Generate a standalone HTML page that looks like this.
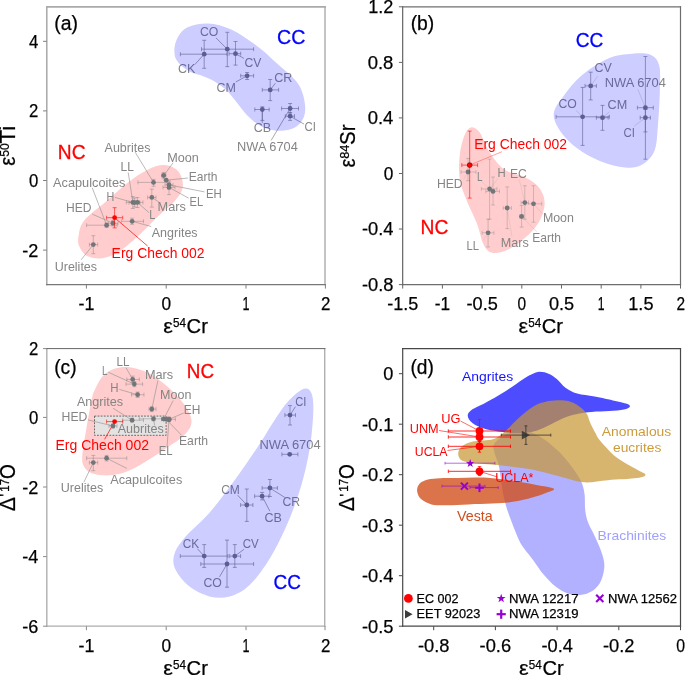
<!DOCTYPE html>
<html><head><meta charset="utf-8"><title>isotope panels</title>
<style>html,body{margin:0;padding:0;background:#fff;}svg{display:block;}text{font-family:"Liberation Sans",sans-serif;}text[fill="#000"]{stroke:#000;stroke-width:0.25px;}text[font-size="20.8"][fill="#ff0000"]{stroke:#ff0000;stroke-width:0.3px;}text[font-size="20.8"][fill="#0000ff"]{stroke:#0000ff;stroke-width:0.3px;}</style>
</head><body>
<svg width="685" height="675" viewBox="0 0 685 675">
<rect width="685" height="675" fill="#fff"/>
<g opacity="0.999">
<g id="pa">
<path d="M78.3,237.6C79.0,233.2 79.2,227.0 83.8,221.0C88.5,215.0 98.6,208.0 106.0,201.6C113.4,195.1 121.3,187.5 128.2,182.2C135.2,176.8 141.6,172.5 147.6,169.7C153.6,166.8 159.2,164.7 164.3,165.0C169.4,165.2 175.1,167.5 178.1,171.1C181.2,174.6 183.3,181.5 182.9,186.3C182.4,191.2 179.9,194.9 175.4,200.2C170.9,205.5 162.4,212.0 156.0,218.2C149.5,224.5 143.0,231.9 136.5,237.6C130.1,243.4 123.1,249.4 117.1,252.9C111.1,256.4 105.6,258.0 100.5,258.4C95.4,258.9 90.1,257.5 86.6,255.7C83.1,253.8 81.1,250.3 79.7,247.3C78.3,244.3 77.6,242.0 78.3,237.6Z" fill="#ff0000" fill-opacity="0.2"/>
<line x1="46.8" y1="6.1" x2="46.8" y2="285.2" stroke="#a8a8a8" stroke-width="1.5" stroke-opacity="1.0" />
<line x1="325.0" y1="6.1" x2="325.0" y2="285.2" stroke="#bebebe" stroke-width="1.8" stroke-opacity="1.0" />
<line x1="46.0" y1="6.9" x2="325.9" y2="6.9" stroke="#aaa" stroke-width="1.6" stroke-opacity="1.0" />
<line x1="46.0" y1="284.6" x2="325.9" y2="284.6" stroke="#777" stroke-width="1.2" stroke-opacity="1.0" />
<line x1="86.4" y1="284.6" x2="86.4" y2="288.6" stroke="#808080" stroke-width="1.0" stroke-opacity="1.0" />
<line x1="166.2" y1="284.6" x2="166.2" y2="288.6" stroke="#808080" stroke-width="1.0" stroke-opacity="1.0" />
<line x1="246.0" y1="284.6" x2="246.0" y2="288.6" stroke="#808080" stroke-width="1.0" stroke-opacity="1.0" />
<line x1="325.4" y1="284.6" x2="325.4" y2="288.6" stroke="#808080" stroke-width="1.0" stroke-opacity="1.0" />
<line x1="43.0" y1="41.3" x2="46.8" y2="41.3" stroke="#808080" stroke-width="1.0" stroke-opacity="1.0" />
<line x1="43.0" y1="110.9" x2="46.8" y2="110.9" stroke="#808080" stroke-width="1.0" stroke-opacity="1.0" />
<line x1="43.0" y1="180.5" x2="46.8" y2="180.5" stroke="#808080" stroke-width="1.0" stroke-opacity="1.0" />
<line x1="43.0" y1="250.1" x2="46.8" y2="250.1" stroke="#808080" stroke-width="1.0" stroke-opacity="1.0" />
<line x1="135.2" y1="152.2" x2="153.5" y2="182.4" stroke="#959595" stroke-width="0.65" stroke-opacity="1.0" />
<line x1="173.2" y1="162.7" x2="163.7" y2="175.5" stroke="#959595" stroke-width="0.65" stroke-opacity="1.0" />
<line x1="187.9" y1="178.0" x2="166.2" y2="180.2" stroke="#959595" stroke-width="0.65" stroke-opacity="1.0" />
<line x1="204.5" y1="191.9" x2="169.0" y2="184.9" stroke="#959595" stroke-width="0.65" stroke-opacity="1.0" />
<line x1="188.7" y1="198.2" x2="169.0" y2="187.4" stroke="#959595" stroke-width="0.65" stroke-opacity="1.0" />
<line x1="159.3" y1="202.4" x2="151.8" y2="197.4" stroke="#959595" stroke-width="0.65" stroke-opacity="1.0" />
<line x1="128.2" y1="172.4" x2="132.9" y2="202.4" stroke="#959595" stroke-width="0.65" stroke-opacity="1.0" />
<line x1="92.2" y1="187.7" x2="106.6" y2="225.2" stroke="#959595" stroke-width="0.65" stroke-opacity="1.0" />
<line x1="114.9" y1="197.4" x2="132.9" y2="202.4" stroke="#959595" stroke-width="0.65" stroke-opacity="1.0" />
<line x1="149.0" y1="212.7" x2="137.4" y2="202.4" stroke="#959595" stroke-width="0.65" stroke-opacity="1.0" />
<line x1="92.2" y1="214.1" x2="113.0" y2="223.2" stroke="#959595" stroke-width="0.65" stroke-opacity="1.0" />
<line x1="151.2" y1="226.5" x2="132.1" y2="221.3" stroke="#959595" stroke-width="0.65" stroke-opacity="1.0" />
<line x1="81.1" y1="259.8" x2="93.3" y2="244.6" stroke="#959595" stroke-width="0.65" stroke-opacity="1.0" />
<line x1="147.6" y1="246.0" x2="114.6" y2="217.7" stroke="#ff0000" stroke-width="0.7" stroke-opacity="1.0" />
<line x1="89.4" y1="244.6" x2="97.7" y2="244.6" stroke="#777777" stroke-width="0.6" stroke-opacity="0.68" />
<line x1="89.4" y1="242.6" x2="89.4" y2="246.6" stroke="#777777" stroke-width="0.6" stroke-opacity="0.68" />
<line x1="97.7" y1="242.6" x2="97.7" y2="246.6" stroke="#777777" stroke-width="0.6" stroke-opacity="0.68" />
<line x1="93.3" y1="235.7" x2="93.3" y2="253.7" stroke="#777777" stroke-width="0.6" stroke-opacity="0.68" />
<line x1="91.3" y1="235.7" x2="95.3" y2="235.7" stroke="#777777" stroke-width="0.6" stroke-opacity="0.68" />
<line x1="91.3" y1="253.7" x2="95.3" y2="253.7" stroke="#777777" stroke-width="0.6" stroke-opacity="0.68" />
<circle cx="93.3" cy="244.6" r="2.4" fill="#72767a" fill-opacity="1.0"/>
<line x1="86.6" y1="225.2" x2="117.1" y2="225.2" stroke="#777777" stroke-width="0.6" stroke-opacity="0.68" />
<line x1="86.6" y1="223.2" x2="86.6" y2="227.2" stroke="#777777" stroke-width="0.6" stroke-opacity="0.68" />
<line x1="117.1" y1="223.2" x2="117.1" y2="227.2" stroke="#777777" stroke-width="0.6" stroke-opacity="0.68" />
<line x1="106.6" y1="223.0" x2="106.6" y2="227.4" stroke="#777777" stroke-width="0.6" stroke-opacity="0.68" />
<line x1="104.6" y1="223.0" x2="108.6" y2="223.0" stroke="#777777" stroke-width="0.6" stroke-opacity="0.68" />
<line x1="104.6" y1="227.4" x2="108.6" y2="227.4" stroke="#777777" stroke-width="0.6" stroke-opacity="0.68" />
<circle cx="106.6" cy="225.2" r="2.4" fill="#72767a" fill-opacity="1.0"/>
<line x1="108.0" y1="223.2" x2="118.0" y2="223.2" stroke="#777777" stroke-width="0.6" stroke-opacity="0.68" />
<line x1="108.0" y1="221.2" x2="108.0" y2="225.2" stroke="#777777" stroke-width="0.6" stroke-opacity="0.68" />
<line x1="118.0" y1="221.2" x2="118.0" y2="225.2" stroke="#777777" stroke-width="0.6" stroke-opacity="0.68" />
<line x1="113.0" y1="220.5" x2="113.0" y2="226.0" stroke="#777777" stroke-width="0.6" stroke-opacity="0.68" />
<line x1="111.0" y1="220.5" x2="115.0" y2="220.5" stroke="#777777" stroke-width="0.6" stroke-opacity="0.68" />
<line x1="111.0" y1="226.0" x2="115.0" y2="226.0" stroke="#777777" stroke-width="0.6" stroke-opacity="0.68" />
<circle cx="113.0" cy="223.2" r="2.4" fill="#72767a" fill-opacity="1.0"/>
<line x1="121.3" y1="221.3" x2="143.5" y2="221.3" stroke="#777777" stroke-width="0.6" stroke-opacity="0.68" />
<line x1="121.3" y1="219.3" x2="121.3" y2="223.3" stroke="#777777" stroke-width="0.6" stroke-opacity="0.68" />
<line x1="143.5" y1="219.3" x2="143.5" y2="223.3" stroke="#777777" stroke-width="0.6" stroke-opacity="0.68" />
<line x1="132.1" y1="218.2" x2="132.1" y2="224.3" stroke="#777777" stroke-width="0.6" stroke-opacity="0.68" />
<line x1="130.1" y1="218.2" x2="134.1" y2="218.2" stroke="#777777" stroke-width="0.6" stroke-opacity="0.68" />
<line x1="130.1" y1="224.3" x2="134.1" y2="224.3" stroke="#777777" stroke-width="0.6" stroke-opacity="0.68" />
<circle cx="132.1" cy="221.3" r="2.4" fill="#72767a" fill-opacity="1.0"/>
<line x1="126.3" y1="202.4" x2="139.3" y2="202.4" stroke="#777777" stroke-width="0.6" stroke-opacity="0.68" />
<line x1="126.3" y1="200.4" x2="126.3" y2="204.4" stroke="#777777" stroke-width="0.6" stroke-opacity="0.68" />
<line x1="139.3" y1="200.4" x2="139.3" y2="204.4" stroke="#777777" stroke-width="0.6" stroke-opacity="0.68" />
<line x1="132.9" y1="196.6" x2="132.9" y2="208.5" stroke="#777777" stroke-width="0.6" stroke-opacity="0.68" />
<line x1="130.9" y1="196.6" x2="134.9" y2="196.6" stroke="#777777" stroke-width="0.6" stroke-opacity="0.68" />
<line x1="130.9" y1="208.5" x2="134.9" y2="208.5" stroke="#777777" stroke-width="0.6" stroke-opacity="0.68" />
<circle cx="132.9" cy="202.4" r="2.4" fill="#72767a" fill-opacity="1.0"/>
<line x1="129.0" y1="202.6" x2="140.0" y2="202.6" stroke="#777777" stroke-width="0.6" stroke-opacity="0.68" />
<line x1="129.0" y1="200.6" x2="129.0" y2="204.6" stroke="#777777" stroke-width="0.6" stroke-opacity="0.68" />
<line x1="140.0" y1="200.6" x2="140.0" y2="204.6" stroke="#777777" stroke-width="0.6" stroke-opacity="0.68" />
<line x1="134.6" y1="198.0" x2="134.6" y2="207.0" stroke="#777777" stroke-width="0.6" stroke-opacity="0.68" />
<line x1="132.6" y1="198.0" x2="136.6" y2="198.0" stroke="#777777" stroke-width="0.6" stroke-opacity="0.68" />
<line x1="132.6" y1="207.0" x2="136.6" y2="207.0" stroke="#777777" stroke-width="0.6" stroke-opacity="0.68" />
<circle cx="134.6" cy="202.6" r="2.4" fill="#72767a" fill-opacity="1.0"/>
<line x1="132.0" y1="202.4" x2="143.0" y2="202.4" stroke="#777777" stroke-width="0.6" stroke-opacity="0.68" />
<line x1="132.0" y1="200.4" x2="132.0" y2="204.4" stroke="#777777" stroke-width="0.6" stroke-opacity="0.68" />
<line x1="143.0" y1="200.4" x2="143.0" y2="204.4" stroke="#777777" stroke-width="0.6" stroke-opacity="0.68" />
<line x1="137.4" y1="197.5" x2="137.4" y2="207.5" stroke="#777777" stroke-width="0.6" stroke-opacity="0.68" />
<line x1="135.4" y1="197.5" x2="139.4" y2="197.5" stroke="#777777" stroke-width="0.6" stroke-opacity="0.68" />
<line x1="135.4" y1="207.5" x2="139.4" y2="207.5" stroke="#777777" stroke-width="0.6" stroke-opacity="0.68" />
<circle cx="137.4" cy="202.4" r="2.4" fill="#72767a" fill-opacity="1.0"/>
<line x1="147.6" y1="197.4" x2="156.0" y2="197.4" stroke="#777777" stroke-width="0.6" stroke-opacity="0.68" />
<line x1="147.6" y1="195.4" x2="147.6" y2="199.4" stroke="#777777" stroke-width="0.6" stroke-opacity="0.68" />
<line x1="156.0" y1="195.4" x2="156.0" y2="199.4" stroke="#777777" stroke-width="0.6" stroke-opacity="0.68" />
<line x1="151.8" y1="189.1" x2="151.8" y2="207.1" stroke="#777777" stroke-width="0.6" stroke-opacity="0.68" />
<line x1="149.8" y1="189.1" x2="153.8" y2="189.1" stroke="#777777" stroke-width="0.6" stroke-opacity="0.68" />
<line x1="149.8" y1="207.1" x2="153.8" y2="207.1" stroke="#777777" stroke-width="0.6" stroke-opacity="0.68" />
<circle cx="151.8" cy="197.4" r="2.4" fill="#72767a" fill-opacity="1.0"/>
<line x1="137.9" y1="182.4" x2="167.1" y2="182.4" stroke="#777777" stroke-width="0.6" stroke-opacity="0.68" />
<line x1="137.9" y1="180.4" x2="137.9" y2="184.4" stroke="#777777" stroke-width="0.6" stroke-opacity="0.68" />
<line x1="167.1" y1="180.4" x2="167.1" y2="184.4" stroke="#777777" stroke-width="0.6" stroke-opacity="0.68" />
<line x1="153.5" y1="179.4" x2="153.5" y2="186.3" stroke="#777777" stroke-width="0.6" stroke-opacity="0.68" />
<line x1="151.5" y1="179.4" x2="155.5" y2="179.4" stroke="#777777" stroke-width="0.6" stroke-opacity="0.68" />
<line x1="151.5" y1="186.3" x2="155.5" y2="186.3" stroke="#777777" stroke-width="0.6" stroke-opacity="0.68" />
<circle cx="153.5" cy="182.4" r="2.4" fill="#72767a" fill-opacity="1.0"/>
<line x1="161.5" y1="175.5" x2="166.0" y2="175.5" stroke="#777777" stroke-width="0.6" stroke-opacity="0.68" />
<line x1="161.5" y1="173.5" x2="161.5" y2="177.5" stroke="#777777" stroke-width="0.6" stroke-opacity="0.68" />
<line x1="166.0" y1="173.5" x2="166.0" y2="177.5" stroke="#777777" stroke-width="0.6" stroke-opacity="0.68" />
<line x1="163.7" y1="172.4" x2="163.7" y2="178.8" stroke="#777777" stroke-width="0.6" stroke-opacity="0.68" />
<line x1="161.7" y1="172.4" x2="165.7" y2="172.4" stroke="#777777" stroke-width="0.6" stroke-opacity="0.68" />
<line x1="161.7" y1="178.8" x2="165.7" y2="178.8" stroke="#777777" stroke-width="0.6" stroke-opacity="0.68" />
<circle cx="163.7" cy="175.5" r="2.4" fill="#72767a" fill-opacity="1.0"/>
<circle cx="166.2" cy="180.2" r="2.4" fill="#72767a" fill-opacity="1.0"/>
<line x1="165.0" y1="184.9" x2="173.0" y2="184.9" stroke="#777777" stroke-width="0.6" stroke-opacity="0.68" />
<line x1="165.0" y1="182.9" x2="165.0" y2="186.9" stroke="#777777" stroke-width="0.6" stroke-opacity="0.68" />
<line x1="173.0" y1="182.9" x2="173.0" y2="186.9" stroke="#777777" stroke-width="0.6" stroke-opacity="0.68" />
<line x1="169.0" y1="181.0" x2="169.0" y2="189.0" stroke="#777777" stroke-width="0.6" stroke-opacity="0.68" />
<line x1="167.0" y1="181.0" x2="171.0" y2="181.0" stroke="#777777" stroke-width="0.6" stroke-opacity="0.68" />
<line x1="167.0" y1="189.0" x2="171.0" y2="189.0" stroke="#777777" stroke-width="0.6" stroke-opacity="0.68" />
<circle cx="169.0" cy="184.9" r="2.4" fill="#72767a" fill-opacity="1.0"/>
<line x1="163.0" y1="187.4" x2="175.0" y2="187.4" stroke="#777777" stroke-width="0.6" stroke-opacity="0.68" />
<line x1="163.0" y1="185.4" x2="163.0" y2="189.4" stroke="#777777" stroke-width="0.6" stroke-opacity="0.68" />
<line x1="175.0" y1="185.4" x2="175.0" y2="189.4" stroke="#777777" stroke-width="0.6" stroke-opacity="0.68" />
<line x1="169.0" y1="182.2" x2="169.0" y2="194.6" stroke="#777777" stroke-width="0.6" stroke-opacity="0.68" />
<line x1="167.0" y1="182.2" x2="171.0" y2="182.2" stroke="#777777" stroke-width="0.6" stroke-opacity="0.68" />
<line x1="167.0" y1="194.6" x2="171.0" y2="194.6" stroke="#777777" stroke-width="0.6" stroke-opacity="0.68" />
<circle cx="169.0" cy="187.4" r="2.4" fill="#72767a" fill-opacity="1.0"/>
<line x1="106.6" y1="217.7" x2="122.7" y2="217.7" stroke="#ff0000" stroke-width="0.6" stroke-opacity="1" />
<line x1="106.6" y1="215.7" x2="106.6" y2="219.7" stroke="#ff0000" stroke-width="0.6" stroke-opacity="1" />
<line x1="122.7" y1="215.7" x2="122.7" y2="219.7" stroke="#ff0000" stroke-width="0.6" stroke-opacity="1" />
<line x1="114.6" y1="207.7" x2="114.6" y2="227.9" stroke="#ff0000" stroke-width="0.6" stroke-opacity="1" />
<line x1="112.6" y1="207.7" x2="116.6" y2="207.7" stroke="#ff0000" stroke-width="0.6" stroke-opacity="1" />
<line x1="112.6" y1="227.9" x2="116.6" y2="227.9" stroke="#ff0000" stroke-width="0.6" stroke-opacity="1" />
<circle cx="114.6" cy="217.7" r="2.4" fill="#ff0000" fill-opacity="1"/>
<line x1="215.9" y1="37.8" x2="227.3" y2="49.2" stroke="#7c7c7c" stroke-width="0.65" stroke-opacity="1.0" />
<line x1="194.8" y1="64.6" x2="204.2" y2="54.2" stroke="#7c7c7c" stroke-width="0.65" stroke-opacity="1.0" />
<line x1="243.9" y1="58.4" x2="235.5" y2="53.7" stroke="#7c7c7c" stroke-width="0.65" stroke-opacity="1.0" />
<line x1="235.7" y1="82.0" x2="247.1" y2="75.8" stroke="#7c7c7c" stroke-width="0.65" stroke-opacity="1.0" />
<line x1="275.4" y1="83.2" x2="270.2" y2="89.9" stroke="#7c7c7c" stroke-width="0.65" stroke-opacity="1.0" />
<line x1="262.3" y1="122.9" x2="262.3" y2="109.5" stroke="#7c7c7c" stroke-width="0.65" stroke-opacity="1.0" />
<line x1="304.0" y1="124.1" x2="290.1" y2="116.2" stroke="#7c7c7c" stroke-width="0.65" stroke-opacity="1.0" />
<line x1="271.2" y1="140.3" x2="290.1" y2="108.5" stroke="#7c7c7c" stroke-width="0.65" stroke-opacity="1.0" />
<line x1="180.4" y1="54.2" x2="227.0" y2="54.2" stroke="#777777" stroke-width="0.7" stroke-opacity="0.85" />
<line x1="180.4" y1="52.2" x2="180.4" y2="56.2" stroke="#777777" stroke-width="0.7" stroke-opacity="0.85" />
<line x1="227.0" y1="52.2" x2="227.0" y2="56.2" stroke="#777777" stroke-width="0.7" stroke-opacity="0.85" />
<line x1="204.2" y1="40.3" x2="204.2" y2="68.3" stroke="#777777" stroke-width="0.7" stroke-opacity="0.85" />
<line x1="202.2" y1="40.3" x2="206.2" y2="40.3" stroke="#777777" stroke-width="0.7" stroke-opacity="0.85" />
<line x1="202.2" y1="68.3" x2="206.2" y2="68.3" stroke="#777777" stroke-width="0.7" stroke-opacity="0.85" />
<circle cx="204.2" cy="54.2" r="2.4" fill="#72767a" fill-opacity="1.0"/>
<line x1="201.5" y1="49.2" x2="253.6" y2="49.2" stroke="#777777" stroke-width="0.7" stroke-opacity="0.85" />
<line x1="201.5" y1="47.2" x2="201.5" y2="51.2" stroke="#777777" stroke-width="0.7" stroke-opacity="0.85" />
<line x1="253.6" y1="47.2" x2="253.6" y2="51.2" stroke="#777777" stroke-width="0.7" stroke-opacity="0.85" />
<line x1="227.3" y1="32.3" x2="227.3" y2="66.6" stroke="#777777" stroke-width="0.7" stroke-opacity="0.85" />
<line x1="225.3" y1="32.3" x2="229.3" y2="32.3" stroke="#777777" stroke-width="0.7" stroke-opacity="0.85" />
<line x1="225.3" y1="66.6" x2="229.3" y2="66.6" stroke="#777777" stroke-width="0.7" stroke-opacity="0.85" />
<circle cx="227.3" cy="49.2" r="2.4" fill="#72767a" fill-opacity="1.0"/>
<line x1="229.0" y1="53.7" x2="240.7" y2="53.7" stroke="#777777" stroke-width="0.7" stroke-opacity="0.85" />
<line x1="229.0" y1="51.7" x2="229.0" y2="55.7" stroke="#777777" stroke-width="0.7" stroke-opacity="0.85" />
<line x1="240.7" y1="51.7" x2="240.7" y2="55.7" stroke="#777777" stroke-width="0.7" stroke-opacity="0.85" />
<line x1="235.5" y1="41.5" x2="235.5" y2="65.1" stroke="#777777" stroke-width="0.7" stroke-opacity="0.85" />
<line x1="233.5" y1="41.5" x2="237.5" y2="41.5" stroke="#777777" stroke-width="0.7" stroke-opacity="0.85" />
<line x1="233.5" y1="65.1" x2="237.5" y2="65.1" stroke="#777777" stroke-width="0.7" stroke-opacity="0.85" />
<circle cx="235.5" cy="53.7" r="2.4" fill="#72767a" fill-opacity="1.0"/>
<line x1="240.7" y1="75.8" x2="253.6" y2="75.8" stroke="#777777" stroke-width="0.7" stroke-opacity="0.85" />
<line x1="240.7" y1="73.8" x2="240.7" y2="77.8" stroke="#777777" stroke-width="0.7" stroke-opacity="0.85" />
<line x1="253.6" y1="73.8" x2="253.6" y2="77.8" stroke="#777777" stroke-width="0.7" stroke-opacity="0.85" />
<line x1="247.1" y1="72.5" x2="247.1" y2="79.5" stroke="#777777" stroke-width="0.7" stroke-opacity="0.85" />
<line x1="245.1" y1="72.5" x2="249.1" y2="72.5" stroke="#777777" stroke-width="0.7" stroke-opacity="0.85" />
<line x1="245.1" y1="79.5" x2="249.1" y2="79.5" stroke="#777777" stroke-width="0.7" stroke-opacity="0.85" />
<circle cx="247.1" cy="75.8" r="2.4" fill="#72767a" fill-opacity="1.0"/>
<line x1="262.3" y1="89.9" x2="278.6" y2="89.9" stroke="#777777" stroke-width="0.7" stroke-opacity="0.85" />
<line x1="262.3" y1="87.9" x2="262.3" y2="91.9" stroke="#777777" stroke-width="0.7" stroke-opacity="0.85" />
<line x1="278.6" y1="87.9" x2="278.6" y2="91.9" stroke="#777777" stroke-width="0.7" stroke-opacity="0.85" />
<line x1="270.2" y1="79.5" x2="270.2" y2="100.6" stroke="#777777" stroke-width="0.7" stroke-opacity="0.85" />
<line x1="268.2" y1="79.5" x2="272.2" y2="79.5" stroke="#777777" stroke-width="0.7" stroke-opacity="0.85" />
<line x1="268.2" y1="100.6" x2="272.2" y2="100.6" stroke="#777777" stroke-width="0.7" stroke-opacity="0.85" />
<circle cx="270.2" cy="89.9" r="2.4" fill="#72767a" fill-opacity="1.0"/>
<line x1="254.8" y1="109.5" x2="269.2" y2="109.5" stroke="#777777" stroke-width="0.7" stroke-opacity="0.85" />
<line x1="254.8" y1="107.5" x2="254.8" y2="111.5" stroke="#777777" stroke-width="0.7" stroke-opacity="0.85" />
<line x1="269.2" y1="107.5" x2="269.2" y2="111.5" stroke="#777777" stroke-width="0.7" stroke-opacity="0.85" />
<line x1="262.3" y1="106.8" x2="262.3" y2="120.4" stroke="#777777" stroke-width="0.7" stroke-opacity="0.85" />
<line x1="260.3" y1="106.8" x2="264.3" y2="106.8" stroke="#777777" stroke-width="0.7" stroke-opacity="0.85" />
<line x1="260.3" y1="120.4" x2="264.3" y2="120.4" stroke="#777777" stroke-width="0.7" stroke-opacity="0.85" />
<circle cx="262.3" cy="109.5" r="2.4" fill="#72767a" fill-opacity="1.0"/>
<line x1="281.6" y1="108.5" x2="298.5" y2="108.5" stroke="#777777" stroke-width="0.7" stroke-opacity="0.85" />
<line x1="281.6" y1="106.5" x2="281.6" y2="110.5" stroke="#777777" stroke-width="0.7" stroke-opacity="0.85" />
<line x1="298.5" y1="106.5" x2="298.5" y2="110.5" stroke="#777777" stroke-width="0.7" stroke-opacity="0.85" />
<line x1="290.1" y1="103.5" x2="290.1" y2="113.0" stroke="#777777" stroke-width="0.7" stroke-opacity="0.85" />
<line x1="288.1" y1="103.5" x2="292.1" y2="103.5" stroke="#777777" stroke-width="0.7" stroke-opacity="0.85" />
<line x1="288.1" y1="113.0" x2="292.1" y2="113.0" stroke="#777777" stroke-width="0.7" stroke-opacity="0.85" />
<circle cx="290.1" cy="108.5" r="2.4" fill="#72767a" fill-opacity="1.0"/>
<line x1="285.3" y1="116.2" x2="294.5" y2="116.2" stroke="#777777" stroke-width="0.7" stroke-opacity="0.85" />
<line x1="285.3" y1="114.2" x2="285.3" y2="118.2" stroke="#777777" stroke-width="0.7" stroke-opacity="0.85" />
<line x1="294.5" y1="114.2" x2="294.5" y2="118.2" stroke="#777777" stroke-width="0.7" stroke-opacity="0.85" />
<line x1="290.1" y1="112.5" x2="290.1" y2="120.4" stroke="#777777" stroke-width="0.7" stroke-opacity="0.85" />
<line x1="288.1" y1="112.5" x2="292.1" y2="112.5" stroke="#777777" stroke-width="0.7" stroke-opacity="0.85" />
<line x1="288.1" y1="120.4" x2="292.1" y2="120.4" stroke="#777777" stroke-width="0.7" stroke-opacity="0.85" />
<circle cx="290.1" cy="116.2" r="2.4" fill="#72767a" fill-opacity="1.0"/>
<text x="54.2" y="29.8" font-size="19.5" fill="#000" textLength="23.7" lengthAdjust="spacingAndGlyphs">(a)</text>
<text x="277.0" y="44.2" font-size="20.8" fill="#0000ff" textLength="28.3" lengthAdjust="spacingAndGlyphs">CC</text>
<text x="57.8" y="159.3" font-size="20.8" fill="#ff0000" textLength="27.7" lengthAdjust="spacingAndGlyphs">NC</text>
<text x="104.6" y="151.6" font-size="13.1" fill="#858585" textLength="45.8" lengthAdjust="spacingAndGlyphs">Aubrites</text>
<text x="167.3" y="161.6" font-size="13.1" fill="#858585" textLength="31.6" lengthAdjust="spacingAndGlyphs">Moon</text>
<text x="188.7" y="181.0" font-size="13.1" fill="#858585" textLength="28.8" lengthAdjust="spacingAndGlyphs">Earth</text>
<text x="205.9" y="197.7" font-size="13.1" fill="#858585" textLength="15.8" lengthAdjust="spacingAndGlyphs">EH</text>
<text x="189.5" y="205.5" font-size="13.1" fill="#858585" textLength="13.6" lengthAdjust="spacingAndGlyphs">EL</text>
<text x="157.6" y="211.0" font-size="13.1" fill="#858585" textLength="28.3" lengthAdjust="spacingAndGlyphs">Mars</text>
<text x="120.5" y="171.3" font-size="13.1" fill="#858585" textLength="13.3" lengthAdjust="spacingAndGlyphs">LL</text>
<text x="53.0" y="186.6" font-size="13.1" fill="#858585" textLength="72.4" lengthAdjust="spacingAndGlyphs">Acapulcoites</text>
<text x="106.6" y="200.5" font-size="13.1" fill="#858585" textLength="7.8" lengthAdjust="spacingAndGlyphs">H</text>
<text x="149.3" y="219.3" font-size="13.1" fill="#858585" textLength="6.1" lengthAdjust="spacingAndGlyphs">L</text>
<text x="66.1" y="211.8" font-size="13.1" fill="#858585" textLength="25.5" lengthAdjust="spacingAndGlyphs">HED</text>
<text x="151.8" y="236.5" font-size="13.1" fill="#858585" textLength="45.8" lengthAdjust="spacingAndGlyphs">Angrites</text>
<text x="54.7" y="271.2" font-size="13.1" fill="#858585" textLength="42.4" lengthAdjust="spacingAndGlyphs">Urelites</text>
<text x="111.6" y="257.9" font-size="14.2" fill="#ff0000" textLength="92.9" lengthAdjust="spacingAndGlyphs">Erg Chech 002</text>
<text x="200.0" y="35.8" font-size="13.1" fill="#858585" textLength="18.4" lengthAdjust="spacingAndGlyphs">CO</text>
<text x="177.9" y="73.3" font-size="13.1" fill="#858585" textLength="17.4" lengthAdjust="spacingAndGlyphs">CK</text>
<text x="244.4" y="67.1" font-size="13.1" fill="#858585" textLength="16.9" lengthAdjust="spacingAndGlyphs">CV</text>
<text x="216.4" y="92.1" font-size="13.1" fill="#858585" textLength="19.4" lengthAdjust="spacingAndGlyphs">CM</text>
<text x="274.2" y="81.5" font-size="13.1" fill="#858585" textLength="18.1" lengthAdjust="spacingAndGlyphs">CR</text>
<text x="253.8" y="132.3" font-size="13.1" fill="#858585" textLength="17.4" lengthAdjust="spacingAndGlyphs">CB</text>
<text x="304.5" y="131.1" font-size="13.1" fill="#858585" textLength="11.4" lengthAdjust="spacingAndGlyphs">CI</text>
<text x="237.0" y="150.7" font-size="13.1" fill="#858585" textLength="60.8" lengthAdjust="spacingAndGlyphs">NWA 6704</text>
<path d="M174.4,51.5C174.3,49.1 174.4,46.9 175.1,44.2C175.8,41.5 177.0,38.1 178.8,35.4C180.6,32.7 183.2,29.9 186.1,28.1C189.0,26.3 192.7,25.3 196.3,24.5C200.0,23.7 204.1,23.4 208.0,23.5C211.9,23.6 215.7,24.2 219.6,25.2C223.5,26.2 227.4,27.8 231.3,29.6C235.2,31.4 239.1,33.8 243.0,36.2C246.9,38.6 251.0,41.5 254.7,44.2C258.3,46.9 260.8,48.7 264.9,52.2C268.9,55.7 274.9,61.6 279.0,65.3C283.1,68.9 286.0,71.0 289.2,74.1C292.4,77.1 295.7,80.3 298.0,83.6C300.3,86.9 301.6,90.3 302.8,94.0C304.0,97.7 304.8,102.0 305.1,105.5C305.4,109.0 305.3,112.0 304.5,114.9C303.7,117.8 302.2,120.8 300.4,123.0C298.5,125.2 296.1,127.0 293.4,128.3C290.7,129.6 287.1,130.2 284.0,130.6C280.9,130.9 277.8,130.8 274.7,130.4C271.6,130.0 268.5,129.5 265.4,128.3C262.3,127.1 258.9,125.0 256.0,123.0C253.1,121.0 250.3,118.5 247.8,116.0C245.3,113.5 242.9,110.4 240.8,107.8C238.7,105.2 236.7,102.5 235.0,100.3C233.3,98.1 232.3,96.8 230.6,94.8C228.8,92.8 226.7,90.5 224.5,88.6C222.3,86.7 220.1,85.1 217.5,83.4C214.9,81.7 211.7,80.0 208.8,78.6C205.9,77.2 203.1,76.2 200.0,75.1C196.9,74.0 193.5,73.4 190.4,71.9C187.3,70.4 184.1,68.3 181.7,66.1C179.3,63.9 177.0,61.2 175.8,58.8C174.6,56.4 174.5,53.9 174.4,51.5Z" fill="#0000ff" fill-opacity="0.2"/>
<text x="29.0" y="47.6" font-size="18.6" fill="#000" textLength="9.3" lengthAdjust="spacingAndGlyphs">4</text>
<text x="29.0" y="117.2" font-size="18.6" fill="#000" textLength="9.3" lengthAdjust="spacingAndGlyphs">2</text>
<text x="29.0" y="186.9" font-size="18.6" fill="#000" textLength="9.3" lengthAdjust="spacingAndGlyphs">0</text>
<text x="22.2" y="256.5" font-size="18.6" fill="#000" textLength="16.1" lengthAdjust="spacingAndGlyphs">-2</text>
<text x="78.5" y="309.8" font-size="18.6" fill="#000" textLength="15.9" lengthAdjust="spacingAndGlyphs">-1</text>
<text x="161.4" y="309.8" font-size="18.6" fill="#000" textLength="9.6" lengthAdjust="spacingAndGlyphs">0</text>
<text x="242.5" y="309.8" font-size="18.6" fill="#000" textLength="7.0" lengthAdjust="spacingAndGlyphs">1</text>
<text x="321.1" y="309.8" font-size="18.6" fill="#000" textLength="9.4" lengthAdjust="spacingAndGlyphs">2</text>
</g>
<g id="pb">
<path d="M470.9,127.4C473.4,127.0 476.5,128.2 479.6,132.3C482.7,136.5 485.4,146.0 489.6,152.2C493.7,158.4 498.7,165.4 504.4,169.6C510.2,173.7 518.7,174.2 524.3,177.0C529.9,179.8 534.8,182.4 538.2,186.4C541.6,190.5 544.2,195.9 544.6,201.3C545.1,206.7 543.2,213.2 540.7,218.7C538.1,224.1 534.5,229.0 529.3,234.1C524.0,239.1 515.6,245.9 509.4,249.0C503.2,252.1 496.4,253.5 492.0,252.7C487.7,251.9 485.8,248.8 483.3,244.0C480.9,239.2 479.8,231.2 477.1,224.1C474.5,217.1 470.1,209.3 467.2,201.8C464.3,194.4 461.0,187.3 459.8,179.5C458.5,171.6 458.9,162.1 459.8,154.7C460.6,147.2 462.9,139.4 464.7,134.8C466.6,130.3 468.5,127.8 470.9,127.4Z" fill="#ff0000" fill-opacity="0.2"/>
<line x1="402.7" y1="6.2" x2="402.7" y2="285.2" stroke="#555" stroke-width="1.1" stroke-opacity="1.0" />
<line x1="680.5" y1="6.2" x2="680.5" y2="285.2" stroke="#6e6e6e" stroke-width="1.2" stroke-opacity="1.0" />
<line x1="402.1" y1="6.8" x2="681.1" y2="6.8" stroke="#6e6e6e" stroke-width="1.2" stroke-opacity="1.0" />
<line x1="402.1" y1="284.6" x2="681.1" y2="284.6" stroke="#6e6e6e" stroke-width="1.2" stroke-opacity="1.0" />
<line x1="402.7" y1="284.6" x2="402.7" y2="288.6" stroke="#666" stroke-width="1.0" stroke-opacity="1.0" />
<line x1="442.4" y1="284.6" x2="442.4" y2="288.6" stroke="#666" stroke-width="1.0" stroke-opacity="1.0" />
<line x1="482.1" y1="284.6" x2="482.1" y2="288.6" stroke="#666" stroke-width="1.0" stroke-opacity="1.0" />
<line x1="521.8" y1="284.6" x2="521.8" y2="288.6" stroke="#666" stroke-width="1.0" stroke-opacity="1.0" />
<line x1="561.5" y1="284.6" x2="561.5" y2="288.6" stroke="#666" stroke-width="1.0" stroke-opacity="1.0" />
<line x1="601.2" y1="284.6" x2="601.2" y2="288.6" stroke="#666" stroke-width="1.0" stroke-opacity="1.0" />
<line x1="640.9" y1="284.6" x2="640.9" y2="288.6" stroke="#666" stroke-width="1.0" stroke-opacity="1.0" />
<line x1="680.5" y1="284.6" x2="680.5" y2="288.6" stroke="#666" stroke-width="1.0" stroke-opacity="1.0" />
<line x1="398.9" y1="6.8" x2="402.7" y2="6.8" stroke="#666" stroke-width="1.0" stroke-opacity="1.0" />
<line x1="398.9" y1="62.4" x2="402.7" y2="62.4" stroke="#666" stroke-width="1.0" stroke-opacity="1.0" />
<line x1="398.9" y1="117.9" x2="402.7" y2="117.9" stroke="#666" stroke-width="1.0" stroke-opacity="1.0" />
<line x1="398.9" y1="173.5" x2="402.7" y2="173.5" stroke="#666" stroke-width="1.0" stroke-opacity="1.0" />
<line x1="398.9" y1="229.0" x2="402.7" y2="229.0" stroke="#666" stroke-width="1.0" stroke-opacity="1.0" />
<line x1="398.9" y1="284.6" x2="402.7" y2="284.6" stroke="#666" stroke-width="1.0" stroke-opacity="1.0" />
<line x1="498.2" y1="178.2" x2="489.6" y2="188.9" stroke="#dcb8b8" stroke-width="0.5" stroke-opacity="1.0" />
<line x1="519.3" y1="179.5" x2="524.8" y2="202.6" stroke="#dcb8b8" stroke-width="0.5" stroke-opacity="1.0" />
<line x1="542.9" y1="214.2" x2="533.5" y2="203.8" stroke="#dcb8b8" stroke-width="0.5" stroke-opacity="1.0" />
<line x1="536.7" y1="231.6" x2="521.6" y2="216.5" stroke="#dcb8b8" stroke-width="0.5" stroke-opacity="1.0" />
<line x1="511.9" y1="236.6" x2="507.2" y2="208.0" stroke="#dcb8b8" stroke-width="0.5" stroke-opacity="1.0" />
<line x1="483.3" y1="240.3" x2="488.1" y2="232.8" stroke="#dcb8b8" stroke-width="0.5" stroke-opacity="1.0" />
<line x1="463.5" y1="179.5" x2="468.0" y2="172.0" stroke="#dcb8b8" stroke-width="0.5" stroke-opacity="1.0" />
<line x1="479.6" y1="179.5" x2="489.6" y2="188.9" stroke="#dcb8b8" stroke-width="0.5" stroke-opacity="1.0" />
<line x1="502.0" y1="151.7" x2="469.7" y2="165.1" stroke="#ff6060" stroke-width="0.6" stroke-opacity="1.0" />
<line x1="461.0" y1="172.0" x2="476.0" y2="172.0" stroke="#777777" stroke-width="0.6" stroke-opacity="0.55" />
<line x1="461.0" y1="170.0" x2="461.0" y2="174.0" stroke="#777777" stroke-width="0.6" stroke-opacity="0.55" />
<line x1="476.0" y1="170.0" x2="476.0" y2="174.0" stroke="#777777" stroke-width="0.6" stroke-opacity="0.55" />
<line x1="468.0" y1="158.4" x2="468.0" y2="180.7" stroke="#777777" stroke-width="0.6" stroke-opacity="0.55" />
<line x1="466.0" y1="158.4" x2="470.0" y2="158.4" stroke="#777777" stroke-width="0.6" stroke-opacity="0.55" />
<line x1="466.0" y1="180.7" x2="470.0" y2="180.7" stroke="#777777" stroke-width="0.6" stroke-opacity="0.55" />
<circle cx="468.0" cy="172.0" r="2.4" fill="#72767a" fill-opacity="1.0"/>
<line x1="481.4" y1="188.9" x2="497.0" y2="188.9" stroke="#777777" stroke-width="0.6" stroke-opacity="0.55" />
<line x1="481.4" y1="186.9" x2="481.4" y2="190.9" stroke="#777777" stroke-width="0.6" stroke-opacity="0.55" />
<line x1="497.0" y1="186.9" x2="497.0" y2="190.9" stroke="#777777" stroke-width="0.6" stroke-opacity="0.55" />
<line x1="489.6" y1="159.1" x2="489.6" y2="219.2" stroke="#777777" stroke-width="0.6" stroke-opacity="0.55" />
<line x1="487.6" y1="159.1" x2="491.6" y2="159.1" stroke="#777777" stroke-width="0.6" stroke-opacity="0.55" />
<line x1="487.6" y1="219.2" x2="491.6" y2="219.2" stroke="#777777" stroke-width="0.6" stroke-opacity="0.55" />
<circle cx="489.6" cy="188.9" r="2.4" fill="#72767a" fill-opacity="1.0"/>
<line x1="485.8" y1="191.4" x2="499.5" y2="191.4" stroke="#777777" stroke-width="0.6" stroke-opacity="0.55" />
<line x1="485.8" y1="189.4" x2="485.8" y2="193.4" stroke="#777777" stroke-width="0.6" stroke-opacity="0.55" />
<line x1="499.5" y1="189.4" x2="499.5" y2="193.4" stroke="#777777" stroke-width="0.6" stroke-opacity="0.55" />
<line x1="493.0" y1="177.0" x2="493.0" y2="205.0" stroke="#777777" stroke-width="0.6" stroke-opacity="0.55" />
<line x1="491.0" y1="177.0" x2="495.0" y2="177.0" stroke="#777777" stroke-width="0.6" stroke-opacity="0.55" />
<line x1="491.0" y1="205.0" x2="495.0" y2="205.0" stroke="#777777" stroke-width="0.6" stroke-opacity="0.55" />
<circle cx="493.0" cy="191.4" r="2.4" fill="#72767a" fill-opacity="1.0"/>
<line x1="482.1" y1="232.8" x2="494.0" y2="232.8" stroke="#777777" stroke-width="0.6" stroke-opacity="0.55" />
<line x1="482.1" y1="230.8" x2="482.1" y2="234.8" stroke="#777777" stroke-width="0.6" stroke-opacity="0.55" />
<line x1="494.0" y1="230.8" x2="494.0" y2="234.8" stroke="#777777" stroke-width="0.6" stroke-opacity="0.55" />
<line x1="488.1" y1="219.2" x2="488.1" y2="247.0" stroke="#777777" stroke-width="0.6" stroke-opacity="0.55" />
<line x1="486.1" y1="219.2" x2="490.1" y2="219.2" stroke="#777777" stroke-width="0.6" stroke-opacity="0.55" />
<line x1="486.1" y1="247.0" x2="490.1" y2="247.0" stroke="#777777" stroke-width="0.6" stroke-opacity="0.55" />
<circle cx="488.1" cy="232.8" r="2.4" fill="#72767a" fill-opacity="1.0"/>
<line x1="503.2" y1="208.0" x2="511.4" y2="208.0" stroke="#777777" stroke-width="0.6" stroke-opacity="0.55" />
<line x1="503.2" y1="206.0" x2="503.2" y2="210.0" stroke="#777777" stroke-width="0.6" stroke-opacity="0.55" />
<line x1="511.4" y1="206.0" x2="511.4" y2="210.0" stroke="#777777" stroke-width="0.6" stroke-opacity="0.55" />
<line x1="507.2" y1="186.9" x2="507.2" y2="228.6" stroke="#777777" stroke-width="0.6" stroke-opacity="0.55" />
<line x1="505.2" y1="186.9" x2="509.2" y2="186.9" stroke="#777777" stroke-width="0.6" stroke-opacity="0.55" />
<line x1="505.2" y1="228.6" x2="509.2" y2="228.6" stroke="#777777" stroke-width="0.6" stroke-opacity="0.55" />
<circle cx="507.2" cy="208.0" r="2.4" fill="#72767a" fill-opacity="1.0"/>
<line x1="519.5" y1="216.5" x2="523.7" y2="216.5" stroke="#777777" stroke-width="0.6" stroke-opacity="0.55" />
<line x1="519.5" y1="214.5" x2="519.5" y2="218.5" stroke="#777777" stroke-width="0.6" stroke-opacity="0.55" />
<line x1="523.7" y1="214.5" x2="523.7" y2="218.5" stroke="#777777" stroke-width="0.6" stroke-opacity="0.55" />
<line x1="521.6" y1="205.5" x2="521.6" y2="227.1" stroke="#777777" stroke-width="0.6" stroke-opacity="0.55" />
<line x1="519.6" y1="205.5" x2="523.6" y2="205.5" stroke="#777777" stroke-width="0.6" stroke-opacity="0.55" />
<line x1="519.6" y1="227.1" x2="523.6" y2="227.1" stroke="#777777" stroke-width="0.6" stroke-opacity="0.55" />
<circle cx="521.6" cy="216.5" r="2.4" fill="#72767a" fill-opacity="1.0"/>
<line x1="521.0" y1="202.6" x2="528.5" y2="202.6" stroke="#777777" stroke-width="0.6" stroke-opacity="0.55" />
<line x1="521.0" y1="200.6" x2="521.0" y2="204.6" stroke="#777777" stroke-width="0.6" stroke-opacity="0.55" />
<line x1="528.5" y1="200.6" x2="528.5" y2="204.6" stroke="#777777" stroke-width="0.6" stroke-opacity="0.55" />
<line x1="524.8" y1="185.7" x2="524.8" y2="219.2" stroke="#777777" stroke-width="0.6" stroke-opacity="0.55" />
<line x1="522.8" y1="185.7" x2="526.8" y2="185.7" stroke="#777777" stroke-width="0.6" stroke-opacity="0.55" />
<line x1="522.8" y1="219.2" x2="526.8" y2="219.2" stroke="#777777" stroke-width="0.6" stroke-opacity="0.55" />
<circle cx="524.8" cy="202.6" r="2.4" fill="#72767a" fill-opacity="1.0"/>
<line x1="525.5" y1="203.8" x2="541.7" y2="203.8" stroke="#777777" stroke-width="0.6" stroke-opacity="0.55" />
<line x1="525.5" y1="201.8" x2="525.5" y2="205.8" stroke="#777777" stroke-width="0.6" stroke-opacity="0.55" />
<line x1="541.7" y1="201.8" x2="541.7" y2="205.8" stroke="#777777" stroke-width="0.6" stroke-opacity="0.55" />
<line x1="533.5" y1="185.7" x2="533.5" y2="222.2" stroke="#777777" stroke-width="0.6" stroke-opacity="0.55" />
<line x1="531.5" y1="185.7" x2="535.5" y2="185.7" stroke="#777777" stroke-width="0.6" stroke-opacity="0.55" />
<line x1="531.5" y1="222.2" x2="535.5" y2="222.2" stroke="#777777" stroke-width="0.6" stroke-opacity="0.55" />
<circle cx="533.5" cy="203.8" r="2.4" fill="#72767a" fill-opacity="1.0"/>
<line x1="461.8" y1="165.1" x2="477.6" y2="165.1" stroke="#ff0000" stroke-width="0.6" stroke-opacity="1" />
<line x1="461.8" y1="163.1" x2="461.8" y2="167.1" stroke="#ff0000" stroke-width="0.6" stroke-opacity="1" />
<line x1="477.6" y1="163.1" x2="477.6" y2="167.1" stroke="#ff0000" stroke-width="0.6" stroke-opacity="1" />
<line x1="469.7" y1="131.1" x2="469.7" y2="198.1" stroke="#ff0000" stroke-width="0.6" stroke-opacity="1" />
<line x1="467.7" y1="131.1" x2="471.7" y2="131.1" stroke="#ff0000" stroke-width="0.6" stroke-opacity="1" />
<line x1="467.7" y1="198.1" x2="471.7" y2="198.1" stroke="#ff0000" stroke-width="0.6" stroke-opacity="1" />
<circle cx="469.7" cy="165.1" r="2.4" fill="#ff0000" fill-opacity="1"/>
<circle cx="469.7" cy="165.1" r="2.4" fill="none" stroke="#7a0000" stroke-width="0.7"/>
<line x1="597.6" y1="76.2" x2="590.7" y2="85.9" stroke="#c4c4c4" stroke-width="0.5" stroke-opacity="1.0" />
<line x1="637.8" y1="89.3" x2="645.4" y2="107.7" stroke="#c4c4c4" stroke-width="0.5" stroke-opacity="1.0" />
<line x1="576.2" y1="110.6" x2="582.6" y2="116.8" stroke="#c4c4c4" stroke-width="0.5" stroke-opacity="1.0" />
<line x1="609.4" y1="111.8" x2="602.5" y2="117.7" stroke="#c4c4c4" stroke-width="0.5" stroke-opacity="1.0" />
<line x1="634.3" y1="126.0" x2="645.4" y2="117.7" stroke="#c4c4c4" stroke-width="0.5" stroke-opacity="1.0" />
<line x1="585.0" y1="85.9" x2="596.4" y2="85.9" stroke="#777777" stroke-width="0.7" stroke-opacity="0.85" />
<line x1="585.0" y1="83.9" x2="585.0" y2="87.9" stroke="#777777" stroke-width="0.7" stroke-opacity="0.85" />
<line x1="596.4" y1="83.9" x2="596.4" y2="87.9" stroke="#777777" stroke-width="0.7" stroke-opacity="0.85" />
<line x1="590.7" y1="72.2" x2="590.7" y2="99.9" stroke="#777777" stroke-width="0.7" stroke-opacity="0.85" />
<line x1="588.7" y1="72.2" x2="592.7" y2="72.2" stroke="#777777" stroke-width="0.7" stroke-opacity="0.85" />
<line x1="588.7" y1="99.9" x2="592.7" y2="99.9" stroke="#777777" stroke-width="0.7" stroke-opacity="0.85" />
<circle cx="590.7" cy="85.9" r="2.4" fill="#72767a" fill-opacity="1.0"/>
<line x1="556.1" y1="116.8" x2="609.4" y2="116.8" stroke="#777777" stroke-width="0.7" stroke-opacity="0.85" />
<line x1="556.1" y1="114.8" x2="556.1" y2="118.8" stroke="#777777" stroke-width="0.7" stroke-opacity="0.85" />
<line x1="609.4" y1="114.8" x2="609.4" y2="118.8" stroke="#777777" stroke-width="0.7" stroke-opacity="0.85" />
<line x1="582.6" y1="87.4" x2="582.6" y2="145.4" stroke="#777777" stroke-width="0.7" stroke-opacity="0.85" />
<line x1="580.6" y1="87.4" x2="584.6" y2="87.4" stroke="#777777" stroke-width="0.7" stroke-opacity="0.85" />
<line x1="580.6" y1="145.4" x2="584.6" y2="145.4" stroke="#777777" stroke-width="0.7" stroke-opacity="0.85" />
<circle cx="582.6" cy="116.8" r="2.4" fill="#72767a" fill-opacity="1.0"/>
<line x1="596.4" y1="117.7" x2="608.2" y2="117.7" stroke="#777777" stroke-width="0.7" stroke-opacity="0.85" />
<line x1="596.4" y1="115.7" x2="596.4" y2="119.7" stroke="#777777" stroke-width="0.7" stroke-opacity="0.85" />
<line x1="608.2" y1="115.7" x2="608.2" y2="119.7" stroke="#777777" stroke-width="0.7" stroke-opacity="0.85" />
<line x1="602.5" y1="105.4" x2="602.5" y2="130.3" stroke="#777777" stroke-width="0.7" stroke-opacity="0.85" />
<line x1="600.5" y1="105.4" x2="604.5" y2="105.4" stroke="#777777" stroke-width="0.7" stroke-opacity="0.85" />
<line x1="600.5" y1="130.3" x2="604.5" y2="130.3" stroke="#777777" stroke-width="0.7" stroke-opacity="0.85" />
<circle cx="602.5" cy="117.7" r="2.4" fill="#72767a" fill-opacity="1.0"/>
<line x1="637.4" y1="107.7" x2="653.3" y2="107.7" stroke="#777777" stroke-width="0.7" stroke-opacity="0.85" />
<line x1="637.4" y1="105.7" x2="637.4" y2="109.7" stroke="#777777" stroke-width="0.7" stroke-opacity="0.85" />
<line x1="653.3" y1="105.7" x2="653.3" y2="109.7" stroke="#777777" stroke-width="0.7" stroke-opacity="0.85" />
<line x1="645.4" y1="56.5" x2="645.4" y2="131.9" stroke="#777777" stroke-width="0.7" stroke-opacity="0.85" />
<line x1="643.4" y1="56.5" x2="647.4" y2="56.5" stroke="#777777" stroke-width="0.7" stroke-opacity="0.85" />
<line x1="643.4" y1="131.9" x2="647.4" y2="131.9" stroke="#777777" stroke-width="0.7" stroke-opacity="0.85" />
<circle cx="645.4" cy="107.7" r="2.4" fill="#72767a" fill-opacity="1.0"/>
<line x1="640.2" y1="117.7" x2="650.4" y2="117.7" stroke="#777777" stroke-width="0.7" stroke-opacity="0.85" />
<line x1="640.2" y1="115.7" x2="640.2" y2="119.7" stroke="#777777" stroke-width="0.7" stroke-opacity="0.85" />
<line x1="650.4" y1="115.7" x2="650.4" y2="119.7" stroke="#777777" stroke-width="0.7" stroke-opacity="0.85" />
<line x1="645.4" y1="109.4" x2="645.4" y2="159.2" stroke="#777777" stroke-width="0.7" stroke-opacity="0.85" />
<line x1="643.4" y1="109.4" x2="647.4" y2="109.4" stroke="#777777" stroke-width="0.7" stroke-opacity="0.85" />
<line x1="643.4" y1="159.2" x2="647.4" y2="159.2" stroke="#777777" stroke-width="0.7" stroke-opacity="0.85" />
<circle cx="645.4" cy="117.7" r="2.4" fill="#72767a" fill-opacity="1.0"/>
<text x="594.5" y="72.2" font-size="13.1" fill="#858585" textLength="17.3" lengthAdjust="spacingAndGlyphs">CV</text>
<text x="604.7" y="87.4" font-size="13.1" fill="#858585" textLength="61.2" lengthAdjust="spacingAndGlyphs">NWA 6704</text>
<text x="558.4" y="108.2" font-size="13.1" fill="#858585" textLength="18.3" lengthAdjust="spacingAndGlyphs">CO</text>
<text x="607.5" y="109.4" font-size="13.1" fill="#858585" textLength="19.7" lengthAdjust="spacingAndGlyphs">CM</text>
<text x="623.6" y="136.7" font-size="13.1" fill="#858585" textLength="11.4" lengthAdjust="spacingAndGlyphs">CI</text>
<path d="M553.7,114.1C554.1,108.2 558.4,102.9 563.2,96.4C567.9,89.8 574.6,81.4 582.1,75.0C589.7,68.7 599.9,62.0 608.2,58.4C616.5,54.9 624.8,54.3 631.9,53.7C639.0,53.1 646.3,52.9 650.9,54.9C655.4,56.9 657.7,59.8 659.2,65.6C660.7,71.3 660.1,79.4 659.9,89.3C659.7,99.1 658.9,114.5 658.0,124.8C657.1,135.1 657.2,144.2 654.4,150.9C651.7,157.6 646.3,162.3 641.4,165.1C636.5,167.9 631.5,168.1 624.8,167.5C618.1,166.9 609.0,164.7 601.1,161.5C593.2,158.4 584.1,153.4 577.4,148.5C570.7,143.6 564.8,137.6 560.8,131.9C556.9,126.2 553.3,120.1 553.7,114.1Z" fill="#0000ff" fill-opacity="0.2"/>
<text x="575.7" y="46.8" font-size="20.8" fill="#0000ff" textLength="27.6" lengthAdjust="spacingAndGlyphs">CC</text>
<text x="497.5" y="176.5" font-size="13.1" fill="#858585" textLength="8.2" lengthAdjust="spacingAndGlyphs">H</text>
<text x="509.9" y="178.0" font-size="13.1" fill="#858585" textLength="16.9" lengthAdjust="spacingAndGlyphs">EC</text>
<text x="542.9" y="221.7" font-size="13.1" fill="#858585" textLength="31.0" lengthAdjust="spacingAndGlyphs">Moon</text>
<text x="532.2" y="241.5" font-size="13.1" fill="#858585" textLength="28.8" lengthAdjust="spacingAndGlyphs">Earth</text>
<text x="500.7" y="246.5" font-size="13.1" fill="#858585" textLength="28.0" lengthAdjust="spacingAndGlyphs">Mars</text>
<text x="466.5" y="249.7" font-size="13.1" fill="#858585" textLength="12.4" lengthAdjust="spacingAndGlyphs">LL</text>
<text x="436.9" y="188.4" font-size="13.1" fill="#858585" textLength="25.8" lengthAdjust="spacingAndGlyphs">HED</text>
<text x="477.1" y="181.0" font-size="13.1" fill="#858585" textLength="5.5" lengthAdjust="spacingAndGlyphs">L</text>
<text x="474.2" y="149.1" font-size="14.2" fill="#ff0000" textLength="92.8" lengthAdjust="spacingAndGlyphs">Erg Chech 002</text>
<text x="420.5" y="233.7" font-size="20.8" fill="#ff0000" textLength="27.8" lengthAdjust="spacingAndGlyphs">NC</text>
<text x="410.7" y="29.7" font-size="19.5" fill="#000" textLength="23.6" lengthAdjust="spacingAndGlyphs">(b)</text>
<text x="368.2" y="13.2" font-size="18.6" fill="#000" textLength="25.2" lengthAdjust="spacingAndGlyphs">1.2</text>
<text x="367.7" y="68.8" font-size="18.6" fill="#000" textLength="25.7" lengthAdjust="spacingAndGlyphs">0.8</text>
<text x="367.7" y="124.3" font-size="18.6" fill="#000" textLength="25.7" lengthAdjust="spacingAndGlyphs">0.4</text>
<text x="383.8" y="179.9" font-size="18.6" fill="#000" textLength="9.6" lengthAdjust="spacingAndGlyphs">0</text>
<text x="361.9" y="235.4" font-size="18.6" fill="#000" textLength="31.5" lengthAdjust="spacingAndGlyphs">-0.4</text>
<text x="361.9" y="291.0" font-size="18.6" fill="#000" textLength="31.5" lengthAdjust="spacingAndGlyphs">-0.8</text>
<text x="387.2" y="309.8" font-size="18.6" fill="#000" textLength="31.0" lengthAdjust="spacingAndGlyphs">-1.5</text>
<text x="434.7" y="309.8" font-size="18.6" fill="#000" textLength="15.4" lengthAdjust="spacingAndGlyphs">-1</text>
<text x="466.5" y="309.8" font-size="18.6" fill="#000" textLength="31.3" lengthAdjust="spacingAndGlyphs">-0.5</text>
<text x="517.5" y="309.8" font-size="18.6" fill="#000" textLength="8.6" lengthAdjust="spacingAndGlyphs">0</text>
<text x="548.9" y="309.8" font-size="18.6" fill="#000" textLength="25.2" lengthAdjust="spacingAndGlyphs">0.5</text>
<text x="597.8" y="309.8" font-size="18.6" fill="#000" textLength="6.8" lengthAdjust="spacingAndGlyphs">1</text>
<text x="628.3" y="309.8" font-size="18.6" fill="#000" textLength="25.2" lengthAdjust="spacingAndGlyphs">1.5</text>
<text x="676.5" y="309.8" font-size="18.6" fill="#000" textLength="8.6" lengthAdjust="spacingAndGlyphs">2</text>
</g>
<g id="pc">
<path d="M95.1,389.2C96.8,385.8 99.1,379.8 102.4,376.4C105.7,373.0 110.5,370.1 115.1,368.6C119.6,367.1 124.2,366.6 129.7,367.3C135.2,368.0 141.9,369.8 148.0,372.8C154.1,375.8 160.7,380.9 166.2,385.5C171.7,390.1 176.8,395.2 180.8,400.1C184.8,405.0 188.3,410.4 190.0,414.7C191.7,419.0 192.1,422.0 190.9,425.7C189.7,429.4 186.2,433.2 182.7,436.6C179.2,440.0 174.8,442.5 169.9,445.8C165.0,449.1 159.3,453.1 153.5,456.7C147.7,460.3 141.0,464.8 135.2,467.7C129.4,470.6 124.3,472.8 118.8,474.1C113.3,475.4 107.3,475.6 102.4,475.3C97.5,475.0 92.8,473.9 89.6,472.2C86.4,470.5 84.4,467.8 83.2,464.9C82.0,462.0 82.0,459.6 82.3,454.9C82.6,450.2 83.9,443.3 85.0,436.6C86.1,429.9 87.5,421.4 88.7,414.7C89.9,408.0 91.2,400.8 92.3,396.5C93.4,392.2 93.4,392.6 95.1,389.2Z" fill="#ff0000" fill-opacity="0.2"/>
<line x1="46.8" y1="348.1" x2="46.8" y2="626.9" stroke="#b4b4b4" stroke-width="1.5" stroke-opacity="1.0" />
<line x1="324.7" y1="348.1" x2="324.7" y2="626.9" stroke="#b0b0b0" stroke-width="1.4" stroke-opacity="1.0" />
<line x1="46.0" y1="348.6" x2="325.4" y2="348.6" stroke="#666" stroke-width="1.0" stroke-opacity="1.0" />
<line x1="46.0" y1="626.2" x2="325.4" y2="626.2" stroke="#adadad" stroke-width="1.3" stroke-opacity="1.0" />
<line x1="86.4" y1="626.2" x2="86.4" y2="630.2" stroke="#8a8a8a" stroke-width="1.0" stroke-opacity="1.0" />
<line x1="166.2" y1="626.2" x2="166.2" y2="630.2" stroke="#8a8a8a" stroke-width="1.0" stroke-opacity="1.0" />
<line x1="246.0" y1="626.2" x2="246.0" y2="630.2" stroke="#8a8a8a" stroke-width="1.0" stroke-opacity="1.0" />
<line x1="325.0" y1="626.2" x2="325.0" y2="630.2" stroke="#8a8a8a" stroke-width="1.0" stroke-opacity="1.0" />
<line x1="43.0" y1="348.6" x2="46.8" y2="348.6" stroke="#8a8a8a" stroke-width="1.0" stroke-opacity="1.0" />
<line x1="43.0" y1="417.4" x2="46.8" y2="417.4" stroke="#8a8a8a" stroke-width="1.0" stroke-opacity="1.0" />
<line x1="43.0" y1="487.0" x2="46.8" y2="487.0" stroke="#8a8a8a" stroke-width="1.0" stroke-opacity="1.0" />
<line x1="43.0" y1="556.6" x2="46.8" y2="556.6" stroke="#8a8a8a" stroke-width="1.0" stroke-opacity="1.0" />
<line x1="43.0" y1="626.2" x2="46.8" y2="626.2" stroke="#8a8a8a" stroke-width="1.0" stroke-opacity="1.0" />
<rect x="94.5" y="416.1" width="71.6" height="19.2" fill="#e3e3e3" fill-opacity="0.93" stroke="#4a4a4a" stroke-width="0.8" stroke-dasharray="1.8,1.3"/>
<line x1="126.0" y1="367.7" x2="132.7" y2="379.4" stroke="#959595" stroke-width="0.65" stroke-opacity="1.0" />
<line x1="108.2" y1="372.2" x2="134.3" y2="384.1" stroke="#959595" stroke-width="0.65" stroke-opacity="1.0" />
<line x1="119.3" y1="389.4" x2="137.6" y2="394.7" stroke="#959595" stroke-width="0.65" stroke-opacity="1.0" />
<line x1="157.9" y1="380.5" x2="151.8" y2="409.1" stroke="#959595" stroke-width="0.65" stroke-opacity="1.0" />
<line x1="173.2" y1="400.5" x2="163.7" y2="419.1" stroke="#959595" stroke-width="0.65" stroke-opacity="1.0" />
<line x1="183.7" y1="413.0" x2="169.0" y2="419.3" stroke="#959595" stroke-width="0.65" stroke-opacity="1.0" />
<line x1="88.0" y1="419.9" x2="113.0" y2="426.0" stroke="#959595" stroke-width="0.65" stroke-opacity="1.0" />
<line x1="113.0" y1="408.2" x2="132.1" y2="420.2" stroke="#959595" stroke-width="0.65" stroke-opacity="1.0" />
<line x1="181.5" y1="435.2" x2="166.2" y2="419.3" stroke="#959595" stroke-width="0.65" stroke-opacity="1.0" />
<line x1="167.1" y1="446.2" x2="169.0" y2="419.3" stroke="#959595" stroke-width="0.65" stroke-opacity="1.0" />
<line x1="126.8" y1="468.4" x2="106.6" y2="458.2" stroke="#959595" stroke-width="0.65" stroke-opacity="1.0" />
<line x1="83.8" y1="482.3" x2="93.3" y2="462.6" stroke="#959595" stroke-width="0.65" stroke-opacity="1.0" />
<line x1="154.6" y1="425.4" x2="153.5" y2="418.8" stroke="#959595" stroke-width="0.65" stroke-opacity="1.0" />
<line x1="104.6" y1="439.3" x2="114.6" y2="421.6" stroke="#ff0000" stroke-width="0.7" stroke-opacity="1.0" />
<line x1="126.8" y1="379.4" x2="139.3" y2="379.4" stroke="#777777" stroke-width="0.6" stroke-opacity="0.68" />
<line x1="126.8" y1="377.4" x2="126.8" y2="381.4" stroke="#777777" stroke-width="0.6" stroke-opacity="0.68" />
<line x1="139.3" y1="377.4" x2="139.3" y2="381.4" stroke="#777777" stroke-width="0.6" stroke-opacity="0.68" />
<line x1="132.7" y1="376.1" x2="132.7" y2="382.7" stroke="#777777" stroke-width="0.6" stroke-opacity="0.68" />
<line x1="130.7" y1="376.1" x2="134.7" y2="376.1" stroke="#777777" stroke-width="0.6" stroke-opacity="0.68" />
<line x1="130.7" y1="382.7" x2="134.7" y2="382.7" stroke="#777777" stroke-width="0.6" stroke-opacity="0.68" />
<circle cx="132.7" cy="379.4" r="2.4" fill="#72767a" fill-opacity="1.0"/>
<line x1="126.0" y1="384.1" x2="142.6" y2="384.1" stroke="#777777" stroke-width="0.6" stroke-opacity="0.68" />
<line x1="126.0" y1="382.1" x2="126.0" y2="386.1" stroke="#777777" stroke-width="0.6" stroke-opacity="0.68" />
<line x1="142.6" y1="382.1" x2="142.6" y2="386.1" stroke="#777777" stroke-width="0.6" stroke-opacity="0.68" />
<line x1="134.3" y1="381.5" x2="134.3" y2="386.7" stroke="#777777" stroke-width="0.6" stroke-opacity="0.68" />
<line x1="132.3" y1="381.5" x2="136.3" y2="381.5" stroke="#777777" stroke-width="0.6" stroke-opacity="0.68" />
<line x1="132.3" y1="386.7" x2="136.3" y2="386.7" stroke="#777777" stroke-width="0.6" stroke-opacity="0.68" />
<circle cx="134.3" cy="384.1" r="2.4" fill="#72767a" fill-opacity="1.0"/>
<line x1="131.5" y1="394.7" x2="144.0" y2="394.7" stroke="#777777" stroke-width="0.6" stroke-opacity="0.68" />
<line x1="131.5" y1="392.7" x2="131.5" y2="396.7" stroke="#777777" stroke-width="0.6" stroke-opacity="0.68" />
<line x1="144.0" y1="392.7" x2="144.0" y2="396.7" stroke="#777777" stroke-width="0.6" stroke-opacity="0.68" />
<line x1="137.6" y1="392.0" x2="137.6" y2="397.4" stroke="#777777" stroke-width="0.6" stroke-opacity="0.68" />
<line x1="135.6" y1="392.0" x2="139.6" y2="392.0" stroke="#777777" stroke-width="0.6" stroke-opacity="0.68" />
<line x1="135.6" y1="397.4" x2="139.6" y2="397.4" stroke="#777777" stroke-width="0.6" stroke-opacity="0.68" />
<circle cx="137.6" cy="394.7" r="2.4" fill="#72767a" fill-opacity="1.0"/>
<line x1="149.0" y1="409.1" x2="156.0" y2="409.1" stroke="#777777" stroke-width="0.6" stroke-opacity="0.68" />
<line x1="149.0" y1="407.1" x2="149.0" y2="411.1" stroke="#777777" stroke-width="0.6" stroke-opacity="0.68" />
<line x1="156.0" y1="407.1" x2="156.0" y2="411.1" stroke="#777777" stroke-width="0.6" stroke-opacity="0.68" />
<line x1="151.8" y1="406.6" x2="151.8" y2="411.6" stroke="#777777" stroke-width="0.6" stroke-opacity="0.68" />
<line x1="149.8" y1="406.6" x2="153.8" y2="406.6" stroke="#777777" stroke-width="0.6" stroke-opacity="0.68" />
<line x1="149.8" y1="411.6" x2="153.8" y2="411.6" stroke="#777777" stroke-width="0.6" stroke-opacity="0.68" />
<circle cx="151.8" cy="409.1" r="2.4" fill="#72767a" fill-opacity="1.0"/>
<line x1="122.7" y1="420.2" x2="143.5" y2="420.2" stroke="#777777" stroke-width="0.6" stroke-opacity="0.68" />
<line x1="122.7" y1="418.2" x2="122.7" y2="422.2" stroke="#777777" stroke-width="0.6" stroke-opacity="0.68" />
<line x1="143.5" y1="418.2" x2="143.5" y2="422.2" stroke="#777777" stroke-width="0.6" stroke-opacity="0.68" />
<line x1="132.1" y1="418.2" x2="132.1" y2="422.2" stroke="#777777" stroke-width="0.6" stroke-opacity="0.68" />
<line x1="130.1" y1="418.2" x2="134.1" y2="418.2" stroke="#777777" stroke-width="0.6" stroke-opacity="0.68" />
<line x1="130.1" y1="422.2" x2="134.1" y2="422.2" stroke="#777777" stroke-width="0.6" stroke-opacity="0.68" />
<circle cx="132.1" cy="420.2" r="2.4" fill="#72767a" fill-opacity="1.0"/>
<line x1="139.3" y1="418.8" x2="167.1" y2="418.8" stroke="#777777" stroke-width="0.6" stroke-opacity="0.68" />
<line x1="139.3" y1="416.8" x2="139.3" y2="420.8" stroke="#777777" stroke-width="0.6" stroke-opacity="0.68" />
<line x1="167.1" y1="416.8" x2="167.1" y2="420.8" stroke="#777777" stroke-width="0.6" stroke-opacity="0.68" />
<line x1="153.5" y1="416.8" x2="153.5" y2="420.8" stroke="#777777" stroke-width="0.6" stroke-opacity="0.68" />
<line x1="151.5" y1="416.8" x2="155.5" y2="416.8" stroke="#777777" stroke-width="0.6" stroke-opacity="0.68" />
<line x1="151.5" y1="420.8" x2="155.5" y2="420.8" stroke="#777777" stroke-width="0.6" stroke-opacity="0.68" />
<circle cx="153.5" cy="418.8" r="2.4" fill="#72767a" fill-opacity="1.0"/>
<line x1="161.5" y1="419.1" x2="166.0" y2="419.1" stroke="#777777" stroke-width="0.6" stroke-opacity="0.68" />
<line x1="161.5" y1="417.1" x2="161.5" y2="421.1" stroke="#777777" stroke-width="0.6" stroke-opacity="0.68" />
<line x1="166.0" y1="417.1" x2="166.0" y2="421.1" stroke="#777777" stroke-width="0.6" stroke-opacity="0.68" />
<circle cx="163.7" cy="419.1" r="2.4" fill="#72767a" fill-opacity="1.0"/>
<circle cx="166.2" cy="419.3" r="2.4" fill="#72767a" fill-opacity="1.0"/>
<line x1="161.5" y1="419.3" x2="175.4" y2="419.3" stroke="#777777" stroke-width="0.6" stroke-opacity="0.68" />
<line x1="161.5" y1="417.3" x2="161.5" y2="421.3" stroke="#777777" stroke-width="0.6" stroke-opacity="0.68" />
<line x1="175.4" y1="417.3" x2="175.4" y2="421.3" stroke="#777777" stroke-width="0.6" stroke-opacity="0.68" />
<line x1="169.0" y1="417.0" x2="169.0" y2="421.6" stroke="#777777" stroke-width="0.6" stroke-opacity="0.68" />
<line x1="167.0" y1="417.0" x2="171.0" y2="417.0" stroke="#777777" stroke-width="0.6" stroke-opacity="0.68" />
<line x1="167.0" y1="421.6" x2="171.0" y2="421.6" stroke="#777777" stroke-width="0.6" stroke-opacity="0.68" />
<circle cx="169.0" cy="419.3" r="2.6" fill="#72767a" fill-opacity="1.0"/>
<line x1="109.0" y1="426.0" x2="117.0" y2="426.0" stroke="#777777" stroke-width="0.6" stroke-opacity="0.68" />
<line x1="109.0" y1="424.0" x2="109.0" y2="428.0" stroke="#777777" stroke-width="0.6" stroke-opacity="0.68" />
<line x1="117.0" y1="424.0" x2="117.0" y2="428.0" stroke="#777777" stroke-width="0.6" stroke-opacity="0.68" />
<line x1="113.0" y1="424.0" x2="113.0" y2="428.0" stroke="#777777" stroke-width="0.6" stroke-opacity="0.68" />
<line x1="111.0" y1="424.0" x2="115.0" y2="424.0" stroke="#777777" stroke-width="0.6" stroke-opacity="0.68" />
<line x1="111.0" y1="428.0" x2="115.0" y2="428.0" stroke="#777777" stroke-width="0.6" stroke-opacity="0.68" />
<circle cx="113.0" cy="426.0" r="2.4" fill="#72767a" fill-opacity="1.0"/>
<line x1="86.6" y1="458.2" x2="126.8" y2="458.2" stroke="#777777" stroke-width="0.6" stroke-opacity="0.68" />
<line x1="86.6" y1="456.2" x2="86.6" y2="460.2" stroke="#777777" stroke-width="0.6" stroke-opacity="0.68" />
<line x1="126.8" y1="456.2" x2="126.8" y2="460.2" stroke="#777777" stroke-width="0.6" stroke-opacity="0.68" />
<line x1="106.6" y1="455.4" x2="106.6" y2="461.0" stroke="#777777" stroke-width="0.6" stroke-opacity="0.68" />
<line x1="104.6" y1="455.4" x2="108.6" y2="455.4" stroke="#777777" stroke-width="0.6" stroke-opacity="0.68" />
<line x1="104.6" y1="461.0" x2="108.6" y2="461.0" stroke="#777777" stroke-width="0.6" stroke-opacity="0.68" />
<circle cx="106.6" cy="458.2" r="2.4" fill="#72767a" fill-opacity="1.0"/>
<line x1="89.4" y1="462.6" x2="97.7" y2="462.6" stroke="#777777" stroke-width="0.6" stroke-opacity="0.68" />
<line x1="89.4" y1="460.6" x2="89.4" y2="464.6" stroke="#777777" stroke-width="0.6" stroke-opacity="0.68" />
<line x1="97.7" y1="460.6" x2="97.7" y2="464.6" stroke="#777777" stroke-width="0.6" stroke-opacity="0.68" />
<line x1="93.3" y1="455.4" x2="93.3" y2="470.7" stroke="#777777" stroke-width="0.6" stroke-opacity="0.68" />
<line x1="91.3" y1="455.4" x2="95.3" y2="455.4" stroke="#777777" stroke-width="0.6" stroke-opacity="0.68" />
<line x1="91.3" y1="470.7" x2="95.3" y2="470.7" stroke="#777777" stroke-width="0.6" stroke-opacity="0.68" />
<circle cx="93.3" cy="462.6" r="2.4" fill="#72767a" fill-opacity="1.0"/>
<line x1="106.6" y1="421.6" x2="122.7" y2="421.6" stroke="#ff0000" stroke-width="0.6" stroke-opacity="1" />
<line x1="106.6" y1="419.6" x2="106.6" y2="423.6" stroke="#ff0000" stroke-width="0.6" stroke-opacity="1" />
<line x1="122.7" y1="419.6" x2="122.7" y2="423.6" stroke="#ff0000" stroke-width="0.6" stroke-opacity="1" />
<circle cx="114.6" cy="421.6" r="2.4" fill="#ff0000" fill-opacity="1"/>
<text x="116.6" y="365.7" font-size="13.1" fill="#858585" textLength="13.0" lengthAdjust="spacingAndGlyphs">LL</text>
<text x="101.9" y="375.4" font-size="13.1" fill="#858585" textLength="5.5" lengthAdjust="spacingAndGlyphs">L</text>
<text x="144.9" y="379.0" font-size="13.1" fill="#858585" textLength="28.3" lengthAdjust="spacingAndGlyphs">Mars</text>
<text x="110.2" y="392.0" font-size="13.1" fill="#858585" textLength="8.3" lengthAdjust="spacingAndGlyphs">H</text>
<text x="160.1" y="399.2" font-size="13.1" fill="#858585" textLength="31.3" lengthAdjust="spacingAndGlyphs">Moon</text>
<text x="76.9" y="406.2" font-size="13.1" fill="#858585" textLength="46.3" lengthAdjust="spacingAndGlyphs">Angrites</text>
<text x="183.7" y="414.2" font-size="13.1" fill="#858585" textLength="16.6" lengthAdjust="spacingAndGlyphs">EH</text>
<text x="61.6" y="421.2" font-size="13.1" fill="#858585" textLength="25.8" lengthAdjust="spacingAndGlyphs">HED</text>
<text x="117.7" y="433.1" font-size="13.1" fill="#858585" textLength="46.0" lengthAdjust="spacingAndGlyphs">Aubrites</text>
<text x="179.0" y="444.7" font-size="13.1" fill="#858585" textLength="29.1" lengthAdjust="spacingAndGlyphs">Earth</text>
<text x="158.7" y="454.7" font-size="13.1" fill="#858585" textLength="13.9" lengthAdjust="spacingAndGlyphs">EL</text>
<text x="110.2" y="483.6" font-size="13.1" fill="#858585" textLength="72.1" lengthAdjust="spacingAndGlyphs">Acapulcoites</text>
<text x="60.8" y="492.2" font-size="13.1" fill="#858585" textLength="42.4" lengthAdjust="spacingAndGlyphs">Urelites</text>
<text x="55.5" y="449.6" font-size="14.2" fill="#ff0000" textLength="93.5" lengthAdjust="spacingAndGlyphs">Erg Chech 002</text>
<text x="186.8" y="377.5" font-size="20.8" fill="#ff0000" textLength="27.2" lengthAdjust="spacingAndGlyphs">NC</text>
<text x="54.2" y="374.3" font-size="19.5" fill="#000" textLength="22.4" lengthAdjust="spacingAndGlyphs">(c)</text>
<line x1="295.5" y1="406.6" x2="290.0" y2="415.1" stroke="#7c7c7c" stroke-width="0.65" stroke-opacity="1.0" />
<line x1="284.9" y1="497.5" x2="269.9" y2="488.0" stroke="#7c7c7c" stroke-width="0.65" stroke-opacity="1.0" />
<line x1="269.9" y1="511.2" x2="262.1" y2="496.2" stroke="#7c7c7c" stroke-width="0.65" stroke-opacity="1.0" />
<line x1="237.6" y1="495.2" x2="246.8" y2="505.0" stroke="#7c7c7c" stroke-width="0.65" stroke-opacity="1.0" />
<line x1="197.4" y1="548.7" x2="204.2" y2="556.1" stroke="#7c7c7c" stroke-width="0.65" stroke-opacity="1.0" />
<line x1="244.0" y1="549.3" x2="234.8" y2="556.1" stroke="#7c7c7c" stroke-width="0.65" stroke-opacity="1.0" />
<line x1="219.5" y1="576.9" x2="227.0" y2="564.0" stroke="#7c7c7c" stroke-width="0.65" stroke-opacity="1.0" />
<line x1="284.9" y1="415.1" x2="295.5" y2="415.1" stroke="#777777" stroke-width="0.7" stroke-opacity="0.85" />
<line x1="284.9" y1="413.1" x2="284.9" y2="417.1" stroke="#777777" stroke-width="0.7" stroke-opacity="0.85" />
<line x1="295.5" y1="413.1" x2="295.5" y2="417.1" stroke="#777777" stroke-width="0.7" stroke-opacity="0.85" />
<line x1="290.0" y1="405.6" x2="290.0" y2="425.0" stroke="#777777" stroke-width="0.7" stroke-opacity="0.85" />
<line x1="288.0" y1="405.6" x2="292.0" y2="405.6" stroke="#777777" stroke-width="0.7" stroke-opacity="0.85" />
<line x1="288.0" y1="425.0" x2="292.0" y2="425.0" stroke="#777777" stroke-width="0.7" stroke-opacity="0.85" />
<circle cx="290.0" cy="415.1" r="2.4" fill="#72767a" fill-opacity="1.0"/>
<line x1="281.9" y1="454.3" x2="297.9" y2="454.3" stroke="#777777" stroke-width="0.7" stroke-opacity="0.85" />
<line x1="281.9" y1="452.3" x2="281.9" y2="456.3" stroke="#777777" stroke-width="0.7" stroke-opacity="0.85" />
<line x1="297.9" y1="452.3" x2="297.9" y2="456.3" stroke="#777777" stroke-width="0.7" stroke-opacity="0.85" />
<circle cx="289.7" cy="454.3" r="2.4" fill="#72767a" fill-opacity="1.0"/>
<line x1="262.1" y1="488.0" x2="277.4" y2="488.0" stroke="#777777" stroke-width="0.7" stroke-opacity="0.85" />
<line x1="262.1" y1="486.0" x2="262.1" y2="490.0" stroke="#777777" stroke-width="0.7" stroke-opacity="0.85" />
<line x1="277.4" y1="486.0" x2="277.4" y2="490.0" stroke="#777777" stroke-width="0.7" stroke-opacity="0.85" />
<line x1="269.9" y1="479.5" x2="269.9" y2="496.5" stroke="#777777" stroke-width="0.7" stroke-opacity="0.85" />
<line x1="267.9" y1="479.5" x2="271.9" y2="479.5" stroke="#777777" stroke-width="0.7" stroke-opacity="0.85" />
<line x1="267.9" y1="496.5" x2="271.9" y2="496.5" stroke="#777777" stroke-width="0.7" stroke-opacity="0.85" />
<circle cx="269.9" cy="488.0" r="2.4" fill="#72767a" fill-opacity="1.0"/>
<line x1="254.6" y1="496.2" x2="268.9" y2="496.2" stroke="#777777" stroke-width="0.7" stroke-opacity="0.85" />
<line x1="254.6" y1="494.2" x2="254.6" y2="498.2" stroke="#777777" stroke-width="0.7" stroke-opacity="0.85" />
<line x1="268.9" y1="494.2" x2="268.9" y2="498.2" stroke="#777777" stroke-width="0.7" stroke-opacity="0.85" />
<line x1="262.1" y1="492.4" x2="262.1" y2="499.9" stroke="#777777" stroke-width="0.7" stroke-opacity="0.85" />
<line x1="260.1" y1="492.4" x2="264.1" y2="492.4" stroke="#777777" stroke-width="0.7" stroke-opacity="0.85" />
<line x1="260.1" y1="499.9" x2="264.1" y2="499.9" stroke="#777777" stroke-width="0.7" stroke-opacity="0.85" />
<circle cx="262.1" cy="496.2" r="2.4" fill="#72767a" fill-opacity="1.0"/>
<line x1="240.6" y1="505.0" x2="252.9" y2="505.0" stroke="#777777" stroke-width="0.7" stroke-opacity="0.85" />
<line x1="240.6" y1="503.0" x2="240.6" y2="507.0" stroke="#777777" stroke-width="0.7" stroke-opacity="0.85" />
<line x1="252.9" y1="503.0" x2="252.9" y2="507.0" stroke="#777777" stroke-width="0.7" stroke-opacity="0.85" />
<line x1="246.8" y1="489.0" x2="246.8" y2="521.4" stroke="#777777" stroke-width="0.7" stroke-opacity="0.85" />
<line x1="244.8" y1="489.0" x2="248.8" y2="489.0" stroke="#777777" stroke-width="0.7" stroke-opacity="0.85" />
<line x1="244.8" y1="521.4" x2="248.8" y2="521.4" stroke="#777777" stroke-width="0.7" stroke-opacity="0.85" />
<circle cx="246.8" cy="505.0" r="2.4" fill="#72767a" fill-opacity="1.0"/>
<line x1="180.3" y1="556.1" x2="228.0" y2="556.1" stroke="#777777" stroke-width="0.7" stroke-opacity="0.85" />
<line x1="180.3" y1="554.1" x2="180.3" y2="558.1" stroke="#777777" stroke-width="0.7" stroke-opacity="0.85" />
<line x1="228.0" y1="554.1" x2="228.0" y2="558.1" stroke="#777777" stroke-width="0.7" stroke-opacity="0.85" />
<line x1="204.2" y1="544.6" x2="204.2" y2="567.4" stroke="#777777" stroke-width="0.7" stroke-opacity="0.85" />
<line x1="202.2" y1="544.6" x2="206.2" y2="544.6" stroke="#777777" stroke-width="0.7" stroke-opacity="0.85" />
<line x1="202.2" y1="567.4" x2="206.2" y2="567.4" stroke="#777777" stroke-width="0.7" stroke-opacity="0.85" />
<circle cx="204.2" cy="556.1" r="2.4" fill="#72767a" fill-opacity="1.0"/>
<line x1="229.7" y1="556.1" x2="240.6" y2="556.1" stroke="#777777" stroke-width="0.7" stroke-opacity="0.85" />
<line x1="229.7" y1="554.1" x2="229.7" y2="558.1" stroke="#777777" stroke-width="0.7" stroke-opacity="0.85" />
<line x1="240.6" y1="554.1" x2="240.6" y2="558.1" stroke="#777777" stroke-width="0.7" stroke-opacity="0.85" />
<line x1="234.8" y1="544.6" x2="234.8" y2="567.4" stroke="#777777" stroke-width="0.7" stroke-opacity="0.85" />
<line x1="232.8" y1="544.6" x2="236.8" y2="544.6" stroke="#777777" stroke-width="0.7" stroke-opacity="0.85" />
<line x1="232.8" y1="567.4" x2="236.8" y2="567.4" stroke="#777777" stroke-width="0.7" stroke-opacity="0.85" />
<circle cx="234.8" cy="556.1" r="2.4" fill="#72767a" fill-opacity="1.0"/>
<line x1="200.8" y1="564.0" x2="253.6" y2="564.0" stroke="#777777" stroke-width="0.7" stroke-opacity="0.85" />
<line x1="200.8" y1="562.0" x2="200.8" y2="566.0" stroke="#777777" stroke-width="0.7" stroke-opacity="0.85" />
<line x1="253.6" y1="562.0" x2="253.6" y2="566.0" stroke="#777777" stroke-width="0.7" stroke-opacity="0.85" />
<line x1="227.0" y1="540.1" x2="227.0" y2="587.2" stroke="#777777" stroke-width="0.7" stroke-opacity="0.85" />
<line x1="225.0" y1="540.1" x2="229.0" y2="540.1" stroke="#777777" stroke-width="0.7" stroke-opacity="0.85" />
<line x1="225.0" y1="587.2" x2="229.0" y2="587.2" stroke="#777777" stroke-width="0.7" stroke-opacity="0.85" />
<circle cx="227.0" cy="564.0" r="2.4" fill="#72767a" fill-opacity="1.0"/>
<text x="295.2" y="405.6" font-size="13.1" fill="#858585" textLength="11.2" lengthAdjust="spacingAndGlyphs">CI</text>
<text x="259.4" y="448.8" font-size="13.1" fill="#858585" textLength="61.3" lengthAdjust="spacingAndGlyphs">NWA 6704</text>
<text x="221.2" y="493.8" font-size="13.1" fill="#858585" textLength="18.7" lengthAdjust="spacingAndGlyphs">CM</text>
<text x="282.5" y="506.1" font-size="13.1" fill="#858585" textLength="17.7" lengthAdjust="spacingAndGlyphs">CR</text>
<text x="264.5" y="522.1" font-size="13.1" fill="#858585" textLength="17.4" lengthAdjust="spacingAndGlyphs">CB</text>
<text x="182.7" y="548.3" font-size="13.1" fill="#858585" textLength="16.4" lengthAdjust="spacingAndGlyphs">CK</text>
<text x="242.7" y="548.3" font-size="13.1" fill="#858585" textLength="16.0" lengthAdjust="spacingAndGlyphs">CV</text>
<text x="203.5" y="587.2" font-size="13.1" fill="#858585" textLength="18.4" lengthAdjust="spacingAndGlyphs">CO</text>
<path d="M306.4,388.5C309.1,388.8 311.1,391.1 312.2,395.3C313.3,399.6 313.6,405.3 313.2,414.1C312.8,422.9 311.8,436.2 309.8,448.1C307.8,460.1 305.0,473.1 301.3,485.6C297.6,498.1 292.8,511.2 287.7,523.1C282.5,535.0 276.9,547.0 270.6,557.2C264.4,567.4 257.0,577.9 250.2,584.4C243.4,591.0 236.6,594.4 229.7,596.4C222.9,598.3 216.1,598.1 209.3,596.4C202.5,594.7 194.5,590.7 188.9,586.1C183.2,581.6 177.6,574.5 175.2,569.1C172.8,563.7 172.8,559.2 174.5,553.8C176.2,548.4 179.7,543.5 185.4,536.7C191.2,529.9 201.3,522.0 209.3,512.9C217.2,503.8 225.2,493.0 233.1,482.2C241.1,471.4 249.0,460.1 257.0,448.1C264.9,436.2 274.3,419.8 280.8,410.7C287.4,401.6 291.9,397.3 296.2,393.6C300.4,389.9 303.7,388.2 306.4,388.5Z" fill="#0000ff" fill-opacity="0.2"/>
<text x="273.5" y="588.5" font-size="20.8" fill="#0000ff" textLength="27.4" lengthAdjust="spacingAndGlyphs">CC</text>
<text x="29.0" y="354.7" font-size="18.6" fill="#000" textLength="9.3" lengthAdjust="spacingAndGlyphs">2</text>
<text x="29.0" y="424.4" font-size="18.6" fill="#000" textLength="9.3" lengthAdjust="spacingAndGlyphs">0</text>
<text x="22.2" y="493.6" font-size="18.6" fill="#000" textLength="16.1" lengthAdjust="spacingAndGlyphs">-2</text>
<text x="22.2" y="563.2" font-size="18.6" fill="#000" textLength="16.1" lengthAdjust="spacingAndGlyphs">-4</text>
<text x="22.2" y="632.8" font-size="18.6" fill="#000" textLength="16.1" lengthAdjust="spacingAndGlyphs">-6</text>
<text x="78.5" y="651.6" font-size="18.6" fill="#000" textLength="15.9" lengthAdjust="spacingAndGlyphs">-1</text>
<text x="161.4" y="651.6" font-size="18.6" fill="#000" textLength="9.6" lengthAdjust="spacingAndGlyphs">0</text>
<text x="242.5" y="651.6" font-size="18.6" fill="#000" textLength="7.0" lengthAdjust="spacingAndGlyphs">1</text>
<text x="321.1" y="651.6" font-size="18.6" fill="#000" textLength="9.4" lengthAdjust="spacingAndGlyphs">2</text>
</g>
<g id="pd">
<path d="M467.7,415.5C467.7,413.3 469.4,411.6 472.1,409.6C474.8,407.7 479.4,406.1 483.8,403.8C488.2,401.5 493.5,398.5 498.4,395.6C503.3,392.7 508.5,389.2 513.0,386.3C517.5,383.3 521.1,380.2 525.3,377.8C529.4,375.4 533.9,372.7 537.8,372.0C541.7,371.3 545.5,372.6 548.6,373.7C551.8,374.9 554.0,376.6 556.8,379.0C559.6,381.3 562.1,385.3 565.5,387.7C569.0,390.2 572.4,392.1 577.2,393.6C582.1,395.0 588.4,395.3 594.7,396.5C601.1,397.7 609.8,399.7 615.2,400.9C620.5,402.1 624.4,402.8 626.9,403.8C629.3,404.8 630.3,405.7 629.8,406.7C629.3,407.7 627.3,408.9 623.9,409.6C620.5,410.4 614.7,410.7 609.3,411.1C604.0,411.5 597.2,411.5 591.8,412.0C586.5,412.5 582.1,412.9 577.2,414.0C572.4,415.1 567.5,416.4 562.6,418.4C557.8,420.3 552.9,423.5 548.0,425.7C543.2,427.9 538.8,430.3 533.4,431.5C528.1,432.7 521.8,433.0 515.9,433.0C510.1,433.0 503.7,432.3 498.4,431.5C493.0,430.8 488.2,430.1 483.8,428.6C479.4,427.2 474.8,425.0 472.1,422.8C469.4,420.6 467.7,417.7 467.7,415.5Z" fill="#0000ff" fill-opacity="0.7"/>
<path d="M494.2,444.0C496.1,440.9 501.2,436.9 506.0,434.5C510.8,432.1 518.2,429.6 522.7,429.4C527.2,429.2 529.4,431.5 533.3,433.3C537.1,435.1 541.6,437.4 545.8,440.4C549.9,443.4 554.1,447.0 558.2,451.1C562.4,455.2 567.3,461.0 570.7,465.3C574.1,469.6 576.7,473.6 578.6,476.7C580.5,479.8 581.2,481.0 582.2,484.0C583.2,487.0 584.1,490.0 584.6,494.5C585.1,499.0 584.7,506.1 585.3,510.9C585.9,515.7 586.8,519.0 588.3,523.1C589.8,527.2 592.3,531.0 594.4,535.4C596.5,539.8 599.0,545.3 600.6,549.7C602.2,554.1 603.6,558.2 604.1,562.0C604.6,565.8 604.4,568.6 603.6,572.2C602.9,575.8 601.6,580.2 599.6,583.4C597.6,586.6 594.6,589.6 591.4,591.6C588.1,593.6 584.0,594.8 580.1,595.1C576.2,595.4 572.0,595.0 567.9,593.6C563.8,592.2 559.7,589.7 555.6,586.5C551.5,583.3 547.1,578.6 543.4,574.2C539.6,569.8 536.7,564.8 533.1,559.9C529.5,555.0 524.5,549.5 521.6,545.0C518.8,540.5 517.7,537.0 516.0,533.0C514.3,529.0 512.8,524.8 511.3,521.0C509.9,517.2 508.5,513.8 507.3,510.0C506.1,506.2 504.9,502.3 504.0,498.0C503.1,493.7 502.2,488.0 501.6,484.0C501.0,480.0 500.7,477.3 500.2,474.0C499.7,470.7 499.3,467.5 498.4,464.0C497.5,460.5 495.3,456.3 494.6,453.0C493.9,449.7 492.3,447.1 494.2,444.0Z" fill="#6464ff" fill-opacity="0.5"/>
<path d="M458.2,453.2C458.2,450.7 460.0,448.0 462.4,446.1C464.8,444.2 467.6,442.7 472.8,441.5C478.0,440.3 488.0,441.0 493.6,439.0C499.3,437.1 503.1,432.8 506.7,429.8C510.4,426.8 512.0,424.2 515.6,420.9C519.1,417.6 523.8,413.2 528.0,410.2C532.1,407.2 536.0,404.7 540.4,403.1C544.9,401.5 549.9,400.7 554.7,400.4C559.4,400.1 564.8,400.2 568.9,401.3C573.1,402.3 576.7,404.6 579.6,406.7C582.6,408.8 584.9,411.1 586.7,413.8C588.5,416.5 588.7,419.5 590.2,422.7C591.7,426.0 594.0,430.3 595.6,433.3C597.2,436.2 596.5,436.4 600.0,440.4C603.5,444.4 610.2,452.4 616.4,457.3C622.5,462.2 632.3,466.9 637.2,469.8C642.0,472.7 645.5,473.4 645.5,474.8C645.5,476.2 643.4,477.2 637.2,478.1C630.9,479.0 617.0,479.5 608.0,480.2C599.0,480.9 591.4,483.0 583.1,482.3C574.7,481.6 566.4,478.1 558.1,476.1C549.8,474.0 542.2,471.6 533.1,469.8C524.1,468.1 513.0,466.7 504.0,465.7C495.0,464.6 486.0,464.4 479.1,463.6C472.1,462.7 465.9,462.4 462.4,460.7C458.9,458.9 458.2,455.6 458.2,453.2Z" fill="#c89632" fill-opacity="0.7"/>
<path d="M417.1,491.0C416.9,488.4 417.7,485.7 419.5,483.8C421.3,481.9 424.6,480.5 428.0,479.6C431.4,478.7 435.1,478.5 440.0,478.2C444.9,477.9 451.8,478.1 457.6,478.0C463.4,477.9 469.2,477.6 475.0,477.6C480.8,477.6 485.8,477.6 492.6,478.2C499.4,478.8 508.3,480.1 515.6,481.2C522.9,482.3 530.2,483.7 536.6,484.9C543.0,486.1 552.0,487.3 553.7,488.6C555.5,489.9 550.8,491.0 547.1,492.5C543.4,494.0 537.1,496.3 531.4,497.8C525.7,499.3 519.6,500.7 513.0,501.7C506.4,502.7 499.4,503.2 492.0,503.6C484.6,504.1 475.8,504.1 468.3,504.4C460.9,504.7 453.4,505.2 447.3,505.2C441.2,505.2 435.9,505.4 431.5,504.4C427.1,503.4 423.4,501.3 421.0,499.1C418.6,496.9 417.4,493.6 417.1,491.0Z" fill="#d2501e" fill-opacity="0.8"/>
<line x1="402.7" y1="348.0" x2="402.7" y2="626.8" stroke="#484848" stroke-width="1.2" stroke-opacity="1.0" />
<line x1="680.5" y1="348.0" x2="680.5" y2="626.8" stroke="#484848" stroke-width="1.2" stroke-opacity="1.0" />
<line x1="402.1" y1="348.6" x2="681.1" y2="348.6" stroke="#484848" stroke-width="1.2" stroke-opacity="1.0" />
<line x1="402.1" y1="626.2" x2="681.1" y2="626.2" stroke="#484848" stroke-width="1.2" stroke-opacity="1.0" />
<line x1="433.7" y1="626.2" x2="433.7" y2="630.2" stroke="#484848" stroke-width="1.0" stroke-opacity="1.0" />
<line x1="495.4" y1="626.2" x2="495.4" y2="630.2" stroke="#484848" stroke-width="1.0" stroke-opacity="1.0" />
<line x1="557.1" y1="626.2" x2="557.1" y2="630.2" stroke="#484848" stroke-width="1.0" stroke-opacity="1.0" />
<line x1="618.8" y1="626.2" x2="618.8" y2="630.2" stroke="#484848" stroke-width="1.0" stroke-opacity="1.0" />
<line x1="680.5" y1="626.2" x2="680.5" y2="630.2" stroke="#484848" stroke-width="1.0" stroke-opacity="1.0" />
<line x1="398.9" y1="373.7" x2="402.7" y2="373.7" stroke="#484848" stroke-width="1.0" stroke-opacity="1.0" />
<line x1="398.9" y1="424.2" x2="402.7" y2="424.2" stroke="#484848" stroke-width="1.0" stroke-opacity="1.0" />
<line x1="398.9" y1="474.7" x2="402.7" y2="474.7" stroke="#484848" stroke-width="1.0" stroke-opacity="1.0" />
<line x1="398.9" y1="525.2" x2="402.7" y2="525.2" stroke="#484848" stroke-width="1.0" stroke-opacity="1.0" />
<line x1="398.9" y1="575.7" x2="402.7" y2="575.7" stroke="#484848" stroke-width="1.0" stroke-opacity="1.0" />
<line x1="398.9" y1="626.2" x2="402.7" y2="626.2" stroke="#484848" stroke-width="1.0" stroke-opacity="1.0" />
<line x1="501.3" y1="435.1" x2="550.8" y2="435.1" stroke="#2a2a2a" stroke-width="0.75" stroke-opacity="1.0" />
<line x1="525.9" y1="425.9" x2="525.9" y2="444.4" stroke="#2a2a2a" stroke-width="0.75" stroke-opacity="1.0" />
<line x1="501.3" y1="433.6" x2="501.3" y2="436.6" stroke="#2a2a2a" stroke-width="0.75" stroke-opacity="1.0" />
<line x1="550.8" y1="433.6" x2="550.8" y2="436.6" stroke="#2a2a2a" stroke-width="0.75" stroke-opacity="1.0" />
<line x1="524.4" y1="425.9" x2="527.4" y2="425.9" stroke="#2a2a2a" stroke-width="0.75" stroke-opacity="1.0" />
<line x1="524.4" y1="444.4" x2="527.4" y2="444.4" stroke="#2a2a2a" stroke-width="0.75" stroke-opacity="1.0" />
<path d="M521.8,430.8L530.0,435.1L521.8,439.4Z" fill="#333" fill-opacity="0.85"/>
<line x1="460.5" y1="421.0" x2="479.5" y2="431.0" stroke="#ff0000" stroke-width="0.6" stroke-opacity="1.0" />
<line x1="439.0" y1="430.5" x2="479.5" y2="437.0" stroke="#ff0000" stroke-width="0.6" stroke-opacity="1.0" />
<line x1="447.5" y1="450.5" x2="479.5" y2="446.3" stroke="#ff0000" stroke-width="0.6" stroke-opacity="1.0" />
<line x1="497.5" y1="477.0" x2="479.5" y2="471.3" stroke="#ff0000" stroke-width="0.6" stroke-opacity="1.0" />
<line x1="448.3" y1="431.0" x2="510.5" y2="431.0" stroke="#ff0000" stroke-width="0.85" stroke-opacity="1" />
<line x1="448.3" y1="429.3" x2="448.3" y2="432.7" stroke="#ff0000" stroke-width="0.85" stroke-opacity="1" />
<line x1="510.5" y1="429.3" x2="510.5" y2="432.7" stroke="#ff0000" stroke-width="0.85" stroke-opacity="1" />
<line x1="479.5" y1="419.4" x2="479.5" y2="436.0" stroke="#ff0000" stroke-width="0.85" stroke-opacity="1" />
<line x1="477.8" y1="419.4" x2="481.2" y2="419.4" stroke="#ff0000" stroke-width="0.85" stroke-opacity="1" />
<line x1="477.8" y1="436.0" x2="481.2" y2="436.0" stroke="#ff0000" stroke-width="0.85" stroke-opacity="1" />
<circle cx="479.5" cy="431.0" r="3.9" fill="#ff0000" fill-opacity="1"/>
<line x1="448.3" y1="437.0" x2="510.5" y2="437.0" stroke="#ff0000" stroke-width="0.85" stroke-opacity="1" />
<line x1="448.3" y1="435.3" x2="448.3" y2="438.7" stroke="#ff0000" stroke-width="0.85" stroke-opacity="1" />
<line x1="510.5" y1="435.3" x2="510.5" y2="438.7" stroke="#ff0000" stroke-width="0.85" stroke-opacity="1" />
<line x1="479.5" y1="431.0" x2="479.5" y2="441.5" stroke="#ff0000" stroke-width="0.85" stroke-opacity="1" />
<line x1="477.8" y1="431.0" x2="481.2" y2="431.0" stroke="#ff0000" stroke-width="0.85" stroke-opacity="1" />
<line x1="477.8" y1="441.5" x2="481.2" y2="441.5" stroke="#ff0000" stroke-width="0.85" stroke-opacity="1" />
<circle cx="479.5" cy="437.0" r="3.9" fill="#ff0000" fill-opacity="1"/>
<line x1="448.3" y1="446.3" x2="510.5" y2="446.3" stroke="#ff0000" stroke-width="0.85" stroke-opacity="1" />
<line x1="448.3" y1="444.6" x2="448.3" y2="448.0" stroke="#ff0000" stroke-width="0.85" stroke-opacity="1" />
<line x1="510.5" y1="444.6" x2="510.5" y2="448.0" stroke="#ff0000" stroke-width="0.85" stroke-opacity="1" />
<line x1="479.5" y1="441.0" x2="479.5" y2="452.1" stroke="#ff0000" stroke-width="0.85" stroke-opacity="1" />
<line x1="477.8" y1="441.0" x2="481.2" y2="441.0" stroke="#ff0000" stroke-width="0.85" stroke-opacity="1" />
<line x1="477.8" y1="452.1" x2="481.2" y2="452.1" stroke="#ff0000" stroke-width="0.85" stroke-opacity="1" />
<circle cx="479.5" cy="446.3" r="3.9" fill="#ff0000" fill-opacity="1"/>
<line x1="448.3" y1="471.3" x2="510.5" y2="471.3" stroke="#ff0000" stroke-width="0.85" stroke-opacity="1" />
<line x1="448.3" y1="469.6" x2="448.3" y2="473.0" stroke="#ff0000" stroke-width="0.85" stroke-opacity="1" />
<line x1="510.5" y1="469.6" x2="510.5" y2="473.0" stroke="#ff0000" stroke-width="0.85" stroke-opacity="1" />
<line x1="479.5" y1="466.7" x2="479.5" y2="475.6" stroke="#ff0000" stroke-width="0.85" stroke-opacity="1" />
<line x1="477.8" y1="466.7" x2="481.2" y2="466.7" stroke="#ff0000" stroke-width="0.85" stroke-opacity="1" />
<line x1="477.8" y1="475.6" x2="481.2" y2="475.6" stroke="#ff0000" stroke-width="0.85" stroke-opacity="1" />
<circle cx="479.5" cy="471.3" r="3.9" fill="#ff0000" fill-opacity="1"/>
<line x1="445.0" y1="463.2" x2="494.9" y2="463.2" stroke="#9400d3" stroke-width="0.6" stroke-opacity="1.0" />
<line x1="445.0" y1="461.8" x2="445.0" y2="464.6" stroke="#9400d3" stroke-width="0.6" stroke-opacity="1.0" />
<line x1="494.9" y1="461.8" x2="494.9" y2="464.6" stroke="#9400d3" stroke-width="0.6" stroke-opacity="1.0" />
<line x1="442.0" y1="486.1" x2="485.0" y2="486.1" stroke="#9400d3" stroke-width="0.6" stroke-opacity="1.0" />
<line x1="470.0" y1="487.6" x2="498.2" y2="487.6" stroke="#9400d3" stroke-width="0.6" stroke-opacity="1.0" />
<line x1="442.0" y1="484.7" x2="442.0" y2="487.5" stroke="#9400d3" stroke-width="0.6" stroke-opacity="1.0" />
<line x1="485.0" y1="484.7" x2="485.0" y2="487.5" stroke="#9400d3" stroke-width="0.6" stroke-opacity="1.0" />
<line x1="470.0" y1="486.2" x2="470.0" y2="489.0" stroke="#9400d3" stroke-width="0.6" stroke-opacity="1.0" />
<line x1="498.2" y1="486.2" x2="498.2" y2="489.0" stroke="#9400d3" stroke-width="0.6" stroke-opacity="1.0" />
<polygon points="470.20,459.10 471.23,462.08 474.38,462.14 471.86,464.04 472.79,467.06 470.20,465.25 467.61,467.06 468.54,464.04 466.02,462.14 469.17,462.08" fill="#9400d3"/>
<line x1="460.9" y1="482.6" x2="467.9" y2="489.6" stroke="#9400d3" stroke-width="2.0" stroke-opacity="1.0" />
<line x1="460.9" y1="489.6" x2="467.9" y2="482.6" stroke="#9400d3" stroke-width="2.0" stroke-opacity="1.0" />
<line x1="475.2" y1="487.8" x2="483.8" y2="487.8" stroke="#9400d3" stroke-width="2.0" stroke-opacity="1.0" />
<line x1="479.5" y1="483.5" x2="479.5" y2="492.1" stroke="#9400d3" stroke-width="2.0" stroke-opacity="1.0" />
<text x="410.5" y="374.3" font-size="19.5" fill="#000" textLength="23.4" lengthAdjust="spacingAndGlyphs">(d)</text>
<text x="462.0" y="381.4" font-size="13.6" fill="#1414ff" textLength="51.2" lengthAdjust="spacingAndGlyphs">Angrites</text>
<text x="441.3" y="423.2" font-size="13.6" fill="#ff0000" textLength="19.3" lengthAdjust="spacingAndGlyphs">UG</text>
<text x="409.7" y="433.2" font-size="13.6" fill="#ff0000" textLength="29.0" lengthAdjust="spacingAndGlyphs">UNM</text>
<text x="414.8" y="456.4" font-size="13.6" fill="#ff0000" textLength="32.7" lengthAdjust="spacingAndGlyphs">UCLA</text>
<text x="495.2" y="482.2" font-size="13.6" fill="#ff0000" textLength="38.2" lengthAdjust="spacingAndGlyphs">UCLA*</text>
<text x="457.0" y="520.5" font-size="14.4" fill="#cf4f1f" textLength="35.7" lengthAdjust="spacingAndGlyphs">Vesta</text>
<text x="601.8" y="435.6" font-size="13.6" fill="#cd9b3c" textLength="69.5" lengthAdjust="spacingAndGlyphs">Anomalous</text>
<text x="613.0" y="451.5" font-size="13.6" fill="#cd9b3c" textLength="48.3" lengthAdjust="spacingAndGlyphs">eucrites</text>
<text x="597.6" y="539.7" font-size="13.6" fill="#a0a0ff" textLength="68.7" lengthAdjust="spacingAndGlyphs">Brachinites</text>
<circle cx="408.4" cy="598.4" r="4.4" fill="#ff0000"/>
<text x="416.6" y="602.7" font-size="12.4" fill="#000" textLength="41.8" lengthAdjust="spacingAndGlyphs">EC 002</text>
<polygon points="501.20,593.70 502.29,596.90 505.67,596.95 502.96,598.97 503.96,602.20 501.20,600.25 498.44,602.20 499.44,598.97 496.73,596.95 500.11,596.90" fill="#9400d3"/>
<text x="509.0" y="602.7" font-size="12.4" fill="#000" textLength="69.5" lengthAdjust="spacingAndGlyphs">NWA 12217</text>
<line x1="596.2" y1="594.8" x2="603.4" y2="602.0" stroke="#9400d3" stroke-width="2.1" stroke-opacity="1.0" />
<line x1="596.2" y1="602.0" x2="603.4" y2="594.8" stroke="#9400d3" stroke-width="2.1" stroke-opacity="1.0" />
<text x="608.0" y="602.7" font-size="12.4" fill="#000" textLength="69.0" lengthAdjust="spacingAndGlyphs">NWA 12562</text>
<path d="M405.0,610.0L412.6,614.2L405.0,618.4Z" fill="#3c3c3c"/>
<text x="416.6" y="618.4" font-size="12.4" fill="#000" textLength="63.7" lengthAdjust="spacingAndGlyphs">EET 92023</text>
<line x1="496.6" y1="614.2" x2="505.8" y2="614.2" stroke="#9400d3" stroke-width="2.2" stroke-opacity="1.0" />
<line x1="501.2" y1="609.6" x2="501.2" y2="618.8" stroke="#9400d3" stroke-width="2.2" stroke-opacity="1.0" />
<text x="509.0" y="618.4" font-size="12.4" fill="#000" textLength="69.5" lengthAdjust="spacingAndGlyphs">NWA 12319</text>
<text x="383.3" y="380.3" font-size="18.6" fill="#000" textLength="10.1" lengthAdjust="spacingAndGlyphs">0</text>
<text x="361.9" y="430.8" font-size="18.6" fill="#000" textLength="31.5" lengthAdjust="spacingAndGlyphs">-0.1</text>
<text x="361.9" y="481.3" font-size="18.6" fill="#000" textLength="31.5" lengthAdjust="spacingAndGlyphs">-0.2</text>
<text x="361.9" y="531.8" font-size="18.6" fill="#000" textLength="31.5" lengthAdjust="spacingAndGlyphs">-0.3</text>
<text x="361.9" y="582.3" font-size="18.6" fill="#000" textLength="31.5" lengthAdjust="spacingAndGlyphs">-0.4</text>
<text x="361.9" y="632.8" font-size="18.6" fill="#000" textLength="31.5" lengthAdjust="spacingAndGlyphs">-0.5</text>
<text x="417.9" y="651.6" font-size="18.6" fill="#000" textLength="31.5" lengthAdjust="spacingAndGlyphs">-0.8</text>
<text x="479.6" y="651.6" font-size="18.6" fill="#000" textLength="31.5" lengthAdjust="spacingAndGlyphs">-0.6</text>
<text x="541.4" y="651.6" font-size="18.6" fill="#000" textLength="31.5" lengthAdjust="spacingAndGlyphs">-0.4</text>
<text x="603.0" y="651.6" font-size="18.6" fill="#000" textLength="31.5" lengthAdjust="spacingAndGlyphs">-0.2</text>
<text x="676.2" y="651.6" font-size="18.6" fill="#000" textLength="8.8" lengthAdjust="spacingAndGlyphs">0</text>
</g>
<g id="titles" fill="#000">
<text x="163.2" y="332.8" font-size="21" fill="#000" textLength="9.6" lengthAdjust="spacingAndGlyphs">ε</text>
<text x="173.0" y="326.8" font-size="12.6" fill="#000" textLength="13.0" lengthAdjust="spacingAndGlyphs">54</text>
<text x="186.6" y="332.8" font-size="21" fill="#000" textLength="21.3" lengthAdjust="spacingAndGlyphs">Cr</text>
<text x="518.4" y="332.8" font-size="21" fill="#000" textLength="9.6" lengthAdjust="spacingAndGlyphs">ε</text>
<text x="528.2" y="326.8" font-size="12.6" fill="#000" textLength="13.0" lengthAdjust="spacingAndGlyphs">54</text>
<text x="541.8" y="332.8" font-size="21" fill="#000" textLength="21.3" lengthAdjust="spacingAndGlyphs">Cr</text>
<text x="163.2" y="675.4" font-size="21" fill="#000" textLength="9.6" lengthAdjust="spacingAndGlyphs">ε</text>
<text x="173.0" y="669.4" font-size="12.6" fill="#000" textLength="13.0" lengthAdjust="spacingAndGlyphs">54</text>
<text x="186.6" y="675.4" font-size="21" fill="#000" textLength="21.3" lengthAdjust="spacingAndGlyphs">Cr</text>
<text x="519.0" y="675.4" font-size="21" fill="#000" textLength="9.6" lengthAdjust="spacingAndGlyphs">ε</text>
<text x="528.8" y="669.4" font-size="12.6" fill="#000" textLength="13.0" lengthAdjust="spacingAndGlyphs">54</text>
<text x="542.4" y="675.4" font-size="21" fill="#000" textLength="21.3" lengthAdjust="spacingAndGlyphs">Cr</text>
<g transform="translate(15.0,165.9) rotate(-90)">
<text transform="translate(0.20,0.00) scale(0.9494,1)" font-size="21.5" fill="#000">ε</text>
<text transform="translate(9.20,-5.90) scale(0.9405,1)" font-size="13.0" fill="#000">50</text>
<text transform="translate(22.40,0.00) scale(1.0402,1)" font-size="21.5" fill="#000">Ti</text>
</g>
<g transform="translate(354.5,166.7) rotate(-90)">
<text transform="translate(-0.70,0.00) scale(0.9390,1)" font-size="21.5" fill="#000">ε</text>
<text transform="translate(7.90,-5.90) scale(0.9820,1)" font-size="13.0" fill="#000">84</text>
<text transform="translate(21.70,0.00) scale(0.9535,1)" font-size="21.5" fill="#000">Sr</text>
</g>
<g transform="translate(14.6,511.2) rotate(-90)">
<text transform="translate(-0.10,0.00) scale(0.9888,1)" font-size="21.5" fill="#000">Δ</text>
<text transform="translate(14.40,-4.60) scale(1.0475,1)" font-size="15" fill="#000">&#x27;</text>
<text transform="translate(19.50,-5.90) scale(0.8852,1)" font-size="13.0" fill="#000">17</text>
<text transform="translate(32.20,0.00) scale(0.8850,1)" font-size="21.5" fill="#000">O</text>
</g>
<g transform="translate(354.2,511.2) rotate(-90)">
<text transform="translate(-0.10,0.00) scale(0.9888,1)" font-size="21.5" fill="#000">Δ</text>
<text transform="translate(14.40,-4.60) scale(1.0475,1)" font-size="15" fill="#000">&#x27;</text>
<text transform="translate(19.50,-5.90) scale(0.8852,1)" font-size="13.0" fill="#000">17</text>
<text transform="translate(32.20,0.00) scale(0.8850,1)" font-size="21.5" fill="#000">O</text>
</g>
</g>
</g>
</svg></body></html>
